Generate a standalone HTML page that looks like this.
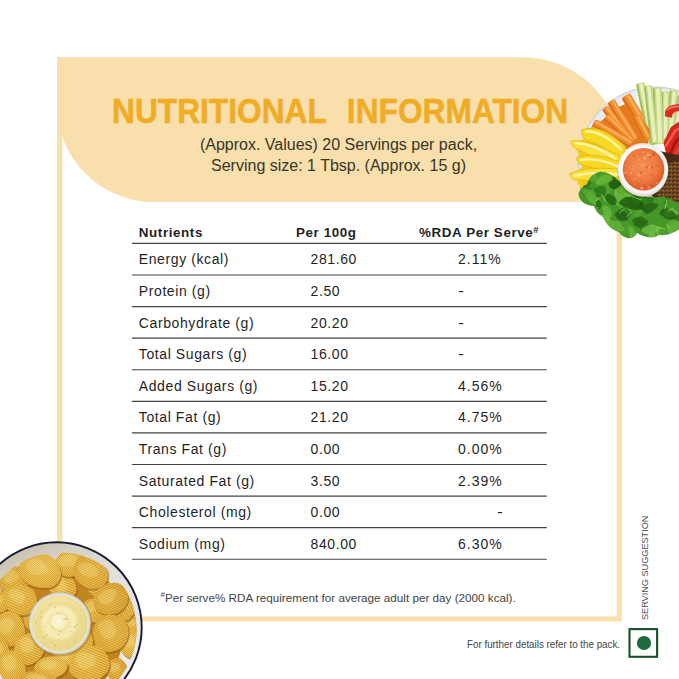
<!DOCTYPE html>
<html lang="en">
<head>
<meta charset="utf-8">
<title>Nutritional Information</title>
<style>
  html,body{margin:0;padding:0;background:#fff;}
  body{width:679px;height:679px;position:relative;overflow:hidden;font-family:"Liberation Sans",sans-serif;color:#222;}
  .abs{position:absolute;}
  #bg{position:absolute;left:0;top:0;width:679px;height:679px;}
  #title{position:absolute;left:111.9px;top:91.2px;margin:0;font-weight:bold;font-size:35.5px;line-height:40px;color:#f0ac25;-webkit-text-stroke:.5px #f0ac25;white-space:nowrap;word-spacing:13.2px;transform-origin:0 50%;transform:scaleX(.893);}
  #sub{position:absolute;left:138.5px;top:133.8px;width:400px;text-align:center;font-size:16px;line-height:21.3px;color:#3a3528;white-space:nowrap;}
  #tbl{position:absolute;left:132px;top:212px;width:415px;}
  .row{position:absolute;left:0;width:415px;height:31.5px;font-size:14px;letter-spacing:.6px;white-space:nowrap;color:#1f1f1f;margin-top:1px;}
  .row span{position:absolute;top:0;line-height:31.5px;}
  .off{margin-left:39px;}
  .dash{display:inline-block;font-weight:normal;transform-origin:0 50%;transform:scaleX(1.25);}
  .row sup{font-size:9.5px;line-height:0;vertical-align:4.5px;letter-spacing:0;}
  .c1{left:6.8px;} .c2{left:178.5px;} .c3{left:326px;letter-spacing:1px;}
  .hd{font-weight:bold;font-size:13.4px;letter-spacing:.6px;margin-top:4.6px;}
  .hd .c2{left:164px;} .hd .c3{left:287px;letter-spacing:.6px;}
  #foot sup{font-size:8px;line-height:0;}
  #foot{position:absolute;left:160.5px;top:589.5px;font-size:11.7px;line-height:16px;color:#444;white-space:nowrap;}
  #pack{position:absolute;left:466.5px;top:637px;font-size:11px;line-height:14px;color:#444;white-space:nowrap;transform-origin:0 50%;transform:scaleX(.891);}
  #serv{position:absolute;left:639.4px;top:620px;font-size:9.9px;line-height:12px;color:#505050;white-space:nowrap;transform-origin:0 0;transform:rotate(-90deg) scaleX(.925);}
</style>
</head>
<body>
<svg id="bg" viewBox="0 0 679 679" width="679" height="679">
<defs>
<radialGradient id="gPlate" cx="655" cy="163.5" r="77" gradientUnits="userSpaceOnUse"><stop offset="0" stop-color="#fafbfc"/><stop offset="0.88" stop-color="#f3f5f7"/><stop offset="0.97" stop-color="#e9edf0"/><stop offset="1" stop-color="#c5cbd1"/></radialGradient>
<radialGradient id="gBowl" cx="643" cy="169" r="26" gradientUnits="userSpaceOnUse"><stop offset="0.75" stop-color="#ffffff"/><stop offset="0.92" stop-color="#f4f2f0"/><stop offset="1" stop-color="#e2dcd8"/></radialGradient>
<radialGradient id="gDip" cx="642" cy="166" r="22" gradientUnits="userSpaceOnUse"><stop offset="0" stop-color="#f48e52"/><stop offset="0.7" stop-color="#ee7a42"/><stop offset="1" stop-color="#de6230"/></radialGradient>
<pattern id="pCrack" width="4" height="4" patternUnits="userSpaceOnUse"><rect width="4" height="4" fill="#73471f"/><circle cx="1" cy="1" r="0.9" fill="#4e2f14"/><circle cx="3" cy="2.6" r="0.7" fill="#b07c48"/><circle cx="2.4" cy="0.6" r="0.6" fill="#33200e"/></pattern>

<radialGradient id="gC0" cx="0.42" cy="0.38" r="0.8"><stop offset="0" stop-color="#f1c854"/><stop offset="0.65" stop-color="#e4ac30"/><stop offset="1" stop-color="#c4811a"/></radialGradient>
<radialGradient id="gC1" cx="0.5" cy="0.45" r="0.8"><stop offset="0" stop-color="#edbf48"/><stop offset="0.65" stop-color="#dfa32a"/><stop offset="1" stop-color="#bd7a18"/></radialGradient>
<radialGradient id="gC2" cx="0.4" cy="0.5" r="0.8"><stop offset="0" stop-color="#ebb940"/><stop offset="0.65" stop-color="#d99a24"/><stop offset="1" stop-color="#b47216"/></radialGradient>
<radialGradient id="gC3" cx="0.55" cy="0.4" r="0.8"><stop offset="0" stop-color="#f4d062"/><stop offset="0.65" stop-color="#e8b238"/><stop offset="1" stop-color="#c98820"/></radialGradient>

<linearGradient id="gRim" x1="40" y1="542" x2="110" y2="680" gradientUnits="userSpaceOnUse"><stop offset="0" stop-color="#cdc3b2"/><stop offset="0.12" stop-color="#d6cfc4"/><stop offset="0.4" stop-color="#e3e0dc"/><stop offset="1" stop-color="#ececee"/></linearGradient>
<radialGradient id="gDBowl" cx="59.8" cy="623.3" r="31" gradientUnits="userSpaceOnUse"><stop offset="0.86" stop-color="#f2f1ec"/><stop offset="0.93" stop-color="#e2e1dc"/><stop offset="1" stop-color="#c9c8c2"/></radialGradient>
<radialGradient id="gMayo" cx="58" cy="620" r="29" gradientUnits="userSpaceOnUse"><stop offset="0" stop-color="#fbf4d0"/><stop offset="0.6" stop-color="#f4e6a6"/><stop offset="1" stop-color="#ead78a"/></radialGradient>
<pattern id="pR0" width="1.6" height="8" patternUnits="userSpaceOnUse" patternTransform="rotate(75)"><rect x="0" y="0" width="0.7" height="8" fill="#b57a16" opacity="0.55"/><rect x="0.85" y="0" width="0.6" height="8" fill="#fbe590" opacity="0.55"/></pattern><pattern id="pR1" width="1.6" height="8" patternUnits="userSpaceOnUse" patternTransform="rotate(20)"><rect x="0" y="0" width="0.7" height="8" fill="#b57a16" opacity="0.55"/><rect x="0.85" y="0" width="0.6" height="8" fill="#fbe590" opacity="0.55"/></pattern><pattern id="pR2" width="1.6" height="8" patternUnits="userSpaceOnUse" patternTransform="rotate(110)"><rect x="0" y="0" width="0.7" height="8" fill="#b57a16" opacity="0.55"/><rect x="0.85" y="0" width="0.6" height="8" fill="#fbe590" opacity="0.55"/></pattern><pattern id="pR3" width="1.6" height="8" patternUnits="userSpaceOnUse" patternTransform="rotate(-35)"><rect x="0" y="0" width="0.7" height="8" fill="#b57a16" opacity="0.55"/><rect x="0.85" y="0" width="0.6" height="8" fill="#fbe590" opacity="0.55"/></pattern><pattern id="pR4" width="1.6" height="8" patternUnits="userSpaceOnUse" patternTransform="rotate(50)"><rect x="0" y="0" width="0.7" height="8" fill="#b57a16" opacity="0.55"/><rect x="0.85" y="0" width="0.6" height="8" fill="#fbe590" opacity="0.55"/></pattern><pattern id="pR5" width="1.6" height="8" patternUnits="userSpaceOnUse" patternTransform="rotate(-70)"><rect x="0" y="0" width="0.7" height="8" fill="#b57a16" opacity="0.55"/><rect x="0.85" y="0" width="0.6" height="8" fill="#fbe590" opacity="0.55"/></pattern></defs>
<!-- frame -->
<path d="M59.65,57.2 V590 A29,29 0 0 0 88.65,619 H619.3 V150" fill="none" stroke="#f8dfab" stroke-width="5.2"/>
<!-- header -->
<path d="M57,57.2 H522.5 A99.5,99.5 0 0 1 622,156.7 V202 H154 A97,97 0 0 1 57,105 Z" fill="#f8dfab"/>
<g stroke="#434343" stroke-width="1.2"><line x1="131.9" x2="546.8" y1="243.40" y2="243.40"/><line x1="131.9" x2="546.8" y1="274.99" y2="274.99"/><line x1="131.9" x2="546.8" y1="306.57" y2="306.57"/><line x1="131.9" x2="546.8" y1="338.15" y2="338.15"/><line x1="131.9" x2="546.8" y1="369.74" y2="369.74"/><line x1="131.9" x2="546.8" y1="401.33" y2="401.33"/><line x1="131.9" x2="546.8" y1="432.91" y2="432.91"/><line x1="131.9" x2="546.8" y1="464.50" y2="464.50"/><line x1="131.9" x2="546.8" y1="496.08" y2="496.08"/><line x1="131.9" x2="546.8" y1="527.66" y2="527.66"/><line x1="131.9" x2="546.8" y1="559.25" y2="559.25"/></g>
<g id="plate">
<clipPath id="cPl"><rect x="560" y="80" width="125" height="118"/></clipPath>
<g clip-path="url(#cPl)"><circle cx="655" cy="163.5" r="77" fill="url(#gPlate)"/>
<circle cx="655" cy="163.5" r="70.5" fill="none" stroke="#dde4ea" stroke-width="1.2"/></g>
<path d="M641,96 L679,98 L672,140 L650,146 Z" fill="#a9c662"/>
<g transform="translate(681.5,95.0) rotate(100.0)"><rect x="0" y="-3.50" width="37.6" height="7.00" rx="1.0" fill="#c6da84"/><rect x="0.5" y="2.10" width="36.6" height="1.40" rx="0.5" fill="#9dbc55"/><rect x="1" y="-2.03" width="35.6" height="2.94" rx="0.5" fill="#e7f0c2"/></g>
<g transform="translate(673.8,90.5) rotate(95.3)"><rect x="0" y="-4.00" width="45.7" height="8.00" rx="1.0" fill="#c6da84"/><rect x="0.5" y="2.40" width="44.7" height="1.60" rx="0.5" fill="#9dbc55"/><rect x="1" y="-2.32" width="43.7" height="3.36" rx="0.5" fill="#e7f0c2"/></g>
<g transform="translate(665.4,91.5) rotate(91.0)"><rect x="0" y="-3.90" width="47.5" height="7.80" rx="1.0" fill="#c6da84"/><rect x="0.5" y="2.34" width="46.5" height="1.56" rx="0.5" fill="#9dbc55"/><rect x="1" y="-2.26" width="45.5" height="3.28" rx="0.5" fill="#e7f0c2"/></g>
<g transform="translate(640.2,83.0) rotate(78.7)"><rect x="0" y="-4.20" width="56.1" height="8.40" rx="1.0" fill="#c6da84"/><rect x="0.5" y="2.52" width="55.1" height="1.68" rx="0.5" fill="#9dbc55"/><rect x="1" y="-2.44" width="54.1" height="3.53" rx="0.5" fill="#e7f0c2"/></g>
<g transform="translate(657.0,87.5) rotate(87.4)"><rect x="0" y="-4.50" width="56.6" height="9.00" rx="1.0" fill="#c6da84"/><rect x="0.5" y="2.70" width="55.6" height="1.80" rx="0.5" fill="#9dbc55"/><rect x="1" y="-2.61" width="54.6" height="3.78" rx="0.5" fill="#e7f0c2"/></g>
<g transform="translate(647.9,85.5) rotate(83.6)"><rect x="0" y="-3.90" width="57.9" height="7.80" rx="1.0" fill="#c6da84"/><rect x="0.5" y="2.34" width="56.9" height="1.56" rx="0.5" fill="#9dbc55"/><rect x="1" y="-2.26" width="55.9" height="3.28" rx="0.5" fill="#e7f0c2"/></g>
<path d="M665.2,116.5 C663.8,108.5 668.5,104.2 682,104 L682,111 C675,110.8 671.8,112.8 672.2,117.8 Z" fill="#dc2a1e"/>
<path d="M667.5,109.8 C670.5,106.8 675,106.2 681,106.4" fill="none" stroke="#f4796a" stroke-width="1.6" stroke-linecap="round"/>
<path d="M663.6,142.5 L671,127 L682,119.5 L682,161 L667.5,160 Z" fill="#d6251b"/>
<path d="M666,146 L675,131 L682,126.5" fill="none" stroke="#f0574a" stroke-width="2.6" stroke-linecap="round"/>
<path d="M668.5,157 L676,141 L682,136" fill="none" stroke="#a3130f" stroke-width="2.2"/>
<path d="M672,160 L679,148 L682,146" fill="none" stroke="#ec4034" stroke-width="3"/>
<path d="M600,122 L616,108 L630,102 L650,130 L648,146 L622,150 L600,134 Z" fill="#e47a1e"/>
<g transform="translate(625.6,95.5) rotate(59.0)"><rect x="0" y="-5.00" width="30.9" height="10.00" rx="2.2" fill="#f08a2a"/><rect x="0.5" y="2.50" width="29.9" height="2.20" rx="1.1" fill="#dc6c15"/><rect x="1" y="-3.50" width="28.9" height="3.00" rx="1.1" fill="#f9ae5c"/></g>
<g transform="translate(636.0,116.0) rotate(63.4)"><rect x="0" y="-4.30" width="25.7" height="8.60" rx="2.2" fill="#f08a2a"/><rect x="0.5" y="2.15" width="24.7" height="1.89" rx="1.1" fill="#dc6c15"/><rect x="1" y="-3.01" width="23.7" height="2.58" rx="1.1" fill="#f9ae5c"/></g>
<g transform="translate(610.8,101.0) rotate(58.2)"><rect x="0" y="-4.10" width="45.9" height="8.20" rx="2.2" fill="#f08a2a"/><rect x="0.5" y="2.05" width="44.9" height="1.80" rx="1.1" fill="#dc6c15"/><rect x="1" y="-2.87" width="43.9" height="2.46" rx="1.1" fill="#f9ae5c"/></g>
<g transform="translate(604.8,107.5) rotate(52.3)"><rect x="0" y="-3.80" width="43.6" height="7.60" rx="2.2" fill="#f08a2a"/><rect x="0.5" y="1.90" width="42.6" height="1.67" rx="1.1" fill="#dc6c15"/><rect x="1" y="-2.66" width="41.6" height="2.28" rx="1.1" fill="#f9ae5c"/></g>
<g transform="translate(606.0,116.5) rotate(43.0)"><rect x="0" y="-3.70" width="30.1" height="7.40" rx="2.2" fill="#f08a2a"/><rect x="0.5" y="1.85" width="29.1" height="1.63" rx="1.1" fill="#dc6c15"/><rect x="1" y="-2.59" width="28.1" height="2.22" rx="1.1" fill="#f9ae5c"/></g>
<g transform="translate(593.5,122.5) rotate(30.1)"><rect x="0" y="-4.10" width="43.9" height="8.20" rx="2.2" fill="#f08a2a"/><rect x="0.5" y="2.05" width="42.9" height="1.80" rx="1.1" fill="#dc6c15"/><rect x="1" y="-2.87" width="41.9" height="2.46" rx="1.1" fill="#f9ae5c"/></g>
<g transform="translate(590.5,128.5) rotate(31.5)"><rect x="0" y="-3.70" width="39.3" height="7.40" rx="2.2" fill="#f08a2a"/><rect x="0.5" y="1.85" width="38.3" height="1.63" rx="1.1" fill="#dc6c15"/><rect x="1" y="-2.59" width="37.3" height="2.22" rx="1.1" fill="#f9ae5c"/></g>
<path d="M588,128 C600,128 614,138 625,148 L622,190 L588,190 L578,184 L576,176 L582,166 L581,159 L576,148 L576,142 L587,138 Z" fill="#f2cd1a"/>
<path d="M582,130 C596,124.5 612,133.5 626,147.5 L621,160 C608,150 596,142.5 586,140.5 C583,137.5 581,133.5 582,130 Z" fill="#f7d822" stroke="#e3b70f" stroke-width="0.9"/>
<path d="M571,141 C584,139.5 602,146.5 620,156.5 L617,167.5 C601,161.5 586,153.5 574,147.5 C572,145.5 571,143.5 571,141 Z" fill="#fae03c" stroke="#e3b70f" stroke-width="0.9"/>
<path d="M577,157.5 C590,152.5 607,156.5 621,162.5 L620,174.5 C605,170.5 590,167.5 580,164.5 C578,162.5 577,160.5 577,157.5 Z" fill="#f7d822" stroke="#e3b70f" stroke-width="0.9"/>
<path d="M570,173.5 C584,167.5 604,167.5 621,169.5 L621,182.5 C604,181.5 586,180.5 574,179.5 C571.5,178 570,176 570,173.5 Z" fill="#fae03c" stroke="#e3b70f" stroke-width="0.9"/>
<path d="M580,186 C594,178.5 608,177.5 621,177.5 L621,191.5 C608,190.5 594,190.5 584,190.5 C581.5,189.5 580,188 580,186 Z" fill="#f7d822" stroke="#e3b70f" stroke-width="0.9"/>
<path d="M586,131.5 C598,131 611,139.5 621,149.5" fill="none" stroke="#fdf4a4" stroke-width="2.6" stroke-linecap="round"/>
<path d="M576,143 C588,143.5 603,150 615,158.5" fill="none" stroke="#fdf4a4" stroke-width="2.6" stroke-linecap="round"/>
<path d="M581,160 C593,158 606,161 618,166.5" fill="none" stroke="#fdf4a4" stroke-width="2.4" stroke-linecap="round"/>
<path d="M575,175.5 C588,172.5 604,172.5 618,174.5" fill="none" stroke="#fdf4a4" stroke-width="2.6" stroke-linecap="round"/>
<path d="M585,186 C596,183.5 608,183 618,183" fill="none" stroke="#fdf4a4" stroke-width="2.2" stroke-linecap="round"/>
<path d="M655,150 L682,156 L682,212 C672,210 662,204 652,196 Z" fill="#4a2a12"/>
<path d="M659,170 C665,163 674,161 682,162 L682,211 C674,209 665,203 657,195 Z" fill="url(#pCrack)"/>
<g id="lettuce">
<clipPath id="cLet"><path d="M578.5,194 C580,188 584,185 587,184.5 C589,178 594,173 599,172 C606,171 613,176 619,181 C628,196 652,200 664,196 L682,205 L682,228 C674,232 668,236 659,235 C652,240 642,236 637,233 C634,240 624,240 619,232 C612,230 606,224 603,217 C598,214 595,210 594,206 C586,206 579,201 578.5,194 Z"/></clipPath>
<path d="M578.5,194 C580,188 584,185 587,184.5 C589,178 594,173 599,172 C606,171 613,176 619,181 C628,196 652,200 664,196 L682,205 L682,228 C674,232 668,236 659,235 C652,240 642,236 637,233 C634,240 624,240 619,232 C612,230 606,224 603,217 C598,214 595,210 594,206 C586,206 579,201 578.5,194 Z" fill="#449628"/>
<g clip-path="url(#cLet)">
<path d="M622.5,220.7 Q620.3,218.6 620.0,214.2 Q619.7,209.9 620.8,206.8 Q621.8,203.6 623.6,201.5 Q625.3,199.5 627.1,201.3 Q629.0,203.1 630.3,206.7 Q631.6,210.2 630.0,213.5 Q628.4,216.7 626.6,219.8 Q624.7,222.8 622.5,220.7 Z" fill="#62b238" opacity="0.9"/>
<path d="M601.6,232.4 Q600.4,234.8 597.1,233.8 Q593.7,232.7 592.7,230.0 Q591.7,227.2 591.5,224.8 Q591.2,222.3 593.4,221.2 Q595.6,220.1 598.6,220.5 Q601.5,221.0 603.8,223.4 Q606.1,225.9 604.5,228.0 Q602.9,230.1 601.6,232.4 Z" fill="#88cb54" opacity="0.9"/>
<path d="M619.8,182.5 Q617.5,185.2 613.2,184.1 Q608.9,183.0 606.4,182.0 Q603.9,181.0 600.9,178.8 Q597.8,176.6 600.1,174.2 Q602.4,171.8 606.4,171.4 Q610.5,170.9 613.4,172.9 Q616.2,174.9 619.1,177.3 Q622.0,179.8 619.8,182.5 Z" fill="#51a22e" opacity="0.9"/>
<path d="M685.1,218.3 Q684.5,219.8 681.3,220.1 Q678.2,220.3 674.9,219.8 Q671.7,219.3 670.3,217.7 Q669.0,216.0 671.4,215.0 Q673.9,214.1 676.2,213.8 Q678.5,213.5 682.2,213.4 Q685.9,213.2 685.8,215.0 Q685.7,216.8 685.1,218.3 Z" fill="#2b7117" opacity="0.9"/>
<path d="M578.1,177.7 Q578.2,175.4 579.5,172.7 Q580.8,170.0 583.8,169.0 Q586.8,168.1 588.6,168.8 Q590.4,169.5 591.4,171.4 Q592.5,173.2 591.0,176.8 Q589.5,180.4 585.4,182.1 Q581.3,183.9 579.6,181.9 Q577.9,180.0 578.1,177.7 Z" fill="#1f5a0e" opacity="0.9"/>
<path d="M621.2,236.9 Q618.7,235.9 617.5,232.6 Q616.3,229.3 617.2,225.7 Q618.1,222.0 621.0,221.0 Q623.8,220.0 626.6,221.0 Q629.5,222.1 628.9,225.7 Q628.4,229.3 628.3,232.1 Q628.2,234.9 626.0,236.4 Q623.8,238.0 621.2,236.9 Z" fill="#4a9b29" opacity="0.9"/>
<path d="M614.2,193.3 Q614.2,189.5 618.0,186.7 Q621.8,184.0 625.4,183.7 Q629.1,183.5 630.7,185.3 Q632.3,187.2 634.2,189.7 Q636.0,192.2 632.7,195.0 Q629.3,197.8 625.1,199.4 Q620.8,201.0 617.5,199.0 Q614.2,197.1 614.2,193.3 Z" fill="#6fbb42" opacity="0.9"/>
<path d="M606.4,190.1 Q606.6,188.6 607.3,186.5 Q608.0,184.5 610.0,184.1 Q612.1,183.8 614.0,183.4 Q615.9,183.0 615.8,184.8 Q615.7,186.5 614.2,188.1 Q612.7,189.7 610.9,191.3 Q609.1,192.8 607.7,192.2 Q606.3,191.7 606.4,190.1 Z" fill="#51a22e" opacity="0.9"/>
<path d="M585.3,194.8 Q583.8,194.1 585.4,192.2 Q586.9,190.3 588.0,188.4 Q589.2,186.6 590.3,187.5 Q591.4,188.4 592.1,189.3 Q592.8,190.2 592.9,192.3 Q593.1,194.3 591.2,194.9 Q589.2,195.6 588.0,195.6 Q586.7,195.6 585.3,194.8 Z" fill="#2f7a19" opacity="0.9"/>
<path d="M599.4,240.8 Q596.5,240.4 595.2,238.1 Q593.9,235.9 592.6,232.8 Q591.2,229.7 594.6,229.2 Q598.1,228.7 600.7,227.8 Q603.4,226.9 606.2,228.8 Q609.1,230.8 607.1,233.6 Q605.1,236.5 603.7,238.8 Q602.2,241.2 599.4,240.8 Z" fill="#4a9b29" opacity="0.9"/>
<path d="M639.8,192.9 Q637.5,192.5 635.0,190.5 Q632.5,188.4 632.0,185.6 Q631.5,182.8 631.2,179.7 Q630.9,176.6 633.5,176.7 Q636.1,176.8 638.8,179.6 Q641.4,182.4 641.8,185.3 Q642.1,188.1 642.1,190.7 Q642.2,193.3 639.8,192.9 Z" fill="#2a6f16" opacity="0.9"/>
<path d="M682.4,226.7 Q681.2,228.1 678.8,228.5 Q676.5,229.0 675.0,227.2 Q673.5,225.3 673.2,223.6 Q672.8,221.8 674.1,220.4 Q675.3,219.0 677.4,219.5 Q679.4,220.0 681.3,220.8 Q683.2,221.7 683.3,223.5 Q683.5,225.3 682.4,226.7 Z" fill="#2a6f16" opacity="0.9"/>
<path d="M624.4,213.0 Q622.8,212.0 622.2,208.5 Q621.6,205.0 622.8,202.5 Q624.1,200.0 625.3,199.3 Q626.5,198.7 627.9,199.0 Q629.4,199.2 629.7,202.2 Q630.1,205.2 629.9,209.0 Q629.8,212.8 627.9,213.4 Q626.1,214.1 624.4,213.0 Z" fill="#5aaa32" opacity="0.9"/>
<path d="M627.6,201.2 Q627.4,204.4 624.5,205.6 Q621.6,206.9 618.4,205.9 Q615.3,204.9 615.5,201.5 Q615.6,198.1 616.4,195.7 Q617.2,193.4 619.4,192.6 Q621.6,191.8 623.8,192.6 Q626.0,193.4 626.9,195.8 Q627.9,198.1 627.6,201.2 Z" fill="#62b238" opacity="0.9"/>
<path d="M604.3,232.4 Q603.3,230.6 605.2,228.8 Q607.1,227.0 609.8,226.2 Q612.6,225.5 613.5,227.6 Q614.5,229.8 614.5,231.6 Q614.4,233.4 613.4,235.5 Q612.3,237.6 609.7,237.8 Q607.1,238.0 606.2,236.1 Q605.3,234.3 604.3,232.4 Z" fill="#62b238" opacity="0.9"/>
<path d="M583.5,242.1 Q584.5,239.6 584.7,237.4 Q584.9,235.3 587.2,235.1 Q589.4,235.0 592.0,234.5 Q594.6,234.0 593.5,236.5 Q592.4,239.0 592.3,241.3 Q592.2,243.6 589.6,244.4 Q587.1,245.3 584.7,244.9 Q582.4,244.5 583.5,242.1 Z" fill="#1f5a0e" opacity="0.9"/>
<path d="M661.1,201.6 Q659.9,200.4 660.2,198.5 Q660.5,196.5 661.8,195.1 Q663.1,193.6 664.8,193.6 Q666.5,193.6 667.9,194.7 Q669.2,195.9 668.5,197.8 Q667.8,199.8 666.8,201.6 Q665.7,203.5 664.0,203.1 Q662.3,202.8 661.1,201.6 Z" fill="#2a6f16" opacity="0.9"/>
<path d="M637.6,204.6 Q634.3,204.1 632.4,200.9 Q630.6,197.8 633.0,195.3 Q635.5,192.8 637.8,190.5 Q640.1,188.3 643.2,189.6 Q646.4,190.8 647.8,193.8 Q649.1,196.8 647.0,199.0 Q645.0,201.2 643.0,203.2 Q640.9,205.1 637.6,204.6 Z" fill="#62b238" opacity="0.9"/>
<path d="M596.1,204.3 Q594.7,205.6 592.0,203.6 Q589.2,201.6 587.8,199.3 Q586.4,197.1 586.0,194.8 Q585.6,192.5 587.6,192.1 Q589.7,191.6 592.5,193.1 Q595.3,194.6 597.1,197.1 Q598.9,199.7 598.2,201.3 Q597.5,202.9 596.1,204.3 Z" fill="#62b238" opacity="0.9"/>
<path d="M609.5,192.8 Q606.6,194.7 603.0,193.0 Q599.4,191.3 597.3,188.4 Q595.3,185.5 596.0,182.6 Q596.7,179.8 598.9,176.9 Q601.0,174.1 604.4,176.8 Q607.9,179.4 609.3,181.9 Q610.7,184.4 611.6,187.7 Q612.5,191.0 609.5,192.8 Z" fill="#51a22e" opacity="0.9"/>
<path d="M677.1,215.5 Q675.2,216.9 672.2,217.2 Q669.2,217.6 666.0,216.7 Q662.8,215.7 663.1,214.0 Q663.4,212.3 663.9,210.8 Q664.4,209.3 667.4,208.7 Q670.3,208.1 673.5,209.3 Q676.6,210.4 677.8,212.3 Q679.0,214.2 677.1,215.5 Z" fill="#6fbb42" opacity="0.9"/>
<path d="M598.5,224.0 Q595.8,223.1 595.6,220.4 Q595.4,217.6 597.4,215.8 Q599.4,214.1 601.9,214.4 Q604.4,214.7 607.3,215.6 Q610.1,216.5 610.5,219.5 Q610.9,222.5 608.6,224.2 Q606.3,225.9 603.8,225.4 Q601.2,224.9 598.5,224.0 Z" fill="#6fbb42" opacity="0.9"/>
<path d="M631.6,245.2 Q630.2,241.3 629.7,238.4 Q629.2,235.4 628.4,230.4 Q627.7,225.5 629.6,225.9 Q631.5,226.4 632.7,227.8 Q633.9,229.1 635.2,232.0 Q636.5,234.9 635.8,238.4 Q635.1,242.0 634.1,245.5 Q633.0,249.0 631.6,245.2 Z" fill="#62b238" opacity="0.9"/>
<path d="M653.1,193.6 Q651.1,195.5 646.3,196.0 Q641.6,196.5 638.9,194.8 Q636.2,193.1 633.5,191.8 Q630.8,190.5 632.9,189.1 Q635.0,187.7 638.5,187.1 Q642.1,186.6 645.0,187.7 Q647.8,188.9 651.4,190.3 Q655.1,191.7 653.1,193.6 Z" fill="#6fbb42" opacity="0.9"/>
<path d="M618.3,193.9 Q616.3,193.0 616.6,190.8 Q616.9,188.6 616.9,186.1 Q616.9,183.7 619.1,184.2 Q621.2,184.6 623.0,184.9 Q624.9,185.2 624.6,187.2 Q624.4,189.3 624.3,191.4 Q624.2,193.6 622.2,194.2 Q620.2,194.9 618.3,193.9 Z" fill="#5aaa32" opacity="0.9"/>
<path d="M581.3,185.1 Q579.7,183.5 581.4,180.5 Q583.1,177.4 585.8,176.7 Q588.4,176.1 591.2,175.3 Q593.9,174.4 594.1,177.0 Q594.4,179.6 592.3,181.7 Q590.3,183.8 588.3,186.7 Q586.3,189.6 584.6,188.1 Q582.8,186.7 581.3,185.1 Z" fill="#2b7117" opacity="0.9"/>
<path d="M634.2,181.8 Q635.3,180.4 636.6,179.6 Q638.0,178.7 639.9,178.3 Q641.8,177.9 642.1,179.2 Q642.5,180.5 643.1,181.8 Q643.7,183.2 641.8,184.4 Q639.9,185.5 638.3,184.8 Q636.7,184.1 634.9,183.6 Q633.0,183.2 634.2,181.8 Z" fill="#6fbb42" opacity="0.9"/>
<path d="M670.9,178.2 Q670.1,175.7 671.4,172.2 Q672.7,168.7 675.9,168.1 Q679.0,167.5 680.7,168.0 Q682.4,168.6 684.5,169.8 Q686.6,171.0 684.3,173.9 Q682.0,176.8 679.5,178.5 Q677.1,180.2 674.4,180.4 Q671.8,180.6 670.9,178.2 Z" fill="#1f5a0e" opacity="0.9"/>
<path d="M597.0,179.0 Q596.0,180.3 593.7,181.3 Q591.4,182.3 589.4,180.8 Q587.4,179.2 586.8,177.7 Q586.2,176.1 586.8,174.4 Q587.4,172.6 590.2,172.4 Q592.9,172.1 595.0,173.3 Q597.1,174.6 597.6,176.2 Q598.1,177.8 597.0,179.0 Z" fill="#5aaa32" opacity="0.9"/>
<path d="M654.2,234.0 Q654.9,231.6 656.5,229.1 Q658.1,226.7 660.7,227.8 Q663.4,229.0 665.4,230.5 Q667.3,232.0 666.7,234.4 Q666.1,236.8 664.3,238.5 Q662.4,240.2 659.3,241.0 Q656.2,241.9 654.9,239.2 Q653.5,236.5 654.2,234.0 Z" fill="#51a22e" opacity="0.9"/>
<path d="M672.0,179.3 Q671.9,177.3 672.9,175.1 Q674.0,172.8 675.4,170.1 Q676.8,167.3 678.1,167.8 Q679.4,168.3 679.9,169.6 Q680.4,170.9 679.8,173.3 Q679.1,175.7 677.4,178.2 Q675.6,180.7 673.9,181.0 Q672.2,181.2 672.0,179.3 Z" fill="#51a22e" opacity="0.9"/>
<path d="M635.1,211.7 Q635.6,210.0 637.0,208.7 Q638.5,207.4 640.6,207.9 Q642.8,208.3 642.8,210.8 Q642.9,213.3 642.3,215.1 Q641.6,216.8 640.2,217.8 Q638.7,218.8 636.5,218.7 Q634.2,218.7 634.5,216.1 Q634.7,213.5 635.1,211.7 Z" fill="#51a22e" opacity="0.9"/>
<path d="M653.1,204.9 Q651.2,204.5 649.8,202.0 Q648.4,199.4 647.7,195.4 Q646.9,191.3 649.5,190.2 Q652.0,189.2 654.6,189.6 Q657.1,190.1 657.7,193.8 Q658.3,197.6 658.8,200.9 Q659.2,204.2 657.1,204.7 Q655.0,205.3 653.1,204.9 Z" fill="#2b7117" opacity="0.9"/>
<path d="M584.6,227.8 Q582.2,227.2 580.8,225.3 Q579.3,223.5 581.0,221.8 Q582.7,220.1 584.6,218.7 Q586.4,217.4 589.1,217.8 Q591.9,218.2 593.1,220.4 Q594.4,222.6 592.4,224.2 Q590.4,225.8 588.7,227.1 Q587.0,228.4 584.6,227.8 Z" fill="#2f7a19" opacity="0.9"/>
<path d="M675.5,188.3 Q673.1,187.1 671.4,183.5 Q669.8,180.0 670.7,175.7 Q671.5,171.4 674.3,169.6 Q677.1,167.8 679.3,170.5 Q681.5,173.2 683.6,176.3 Q685.8,179.3 684.0,182.7 Q682.2,186.0 680.1,187.8 Q678.0,189.5 675.5,188.3 Z" fill="#2a6f16" opacity="0.9"/>
<path d="M608.9,185.6 Q607.9,183.3 609.7,180.1 Q611.6,176.9 614.8,174.9 Q618.1,172.9 619.9,174.7 Q621.7,176.5 623.6,178.2 Q625.6,180.0 623.0,183.1 Q620.5,186.1 617.5,188.1 Q614.5,190.0 612.2,189.0 Q609.9,188.0 608.9,185.6 Z" fill="#1f5a0e" opacity="0.9"/>
<path d="M640.0,209.0 Q638.0,208.0 639.6,203.4 Q641.1,198.9 644.3,195.4 Q647.4,191.9 650.0,191.7 Q652.7,191.5 653.8,194.0 Q654.8,196.4 652.2,200.1 Q649.7,203.8 647.8,207.3 Q646.0,210.8 644.0,210.4 Q642.0,210.1 640.0,209.0 Z" fill="#2f7a19" opacity="0.9"/>
<path d="M649.3,232.4 Q646.5,231.7 643.7,231.0 Q641.0,230.3 638.1,227.4 Q635.3,224.5 635.1,222.0 Q635.0,219.5 637.8,219.7 Q640.6,220.0 643.8,221.5 Q646.9,222.9 648.8,225.6 Q650.6,228.3 651.4,230.8 Q652.2,233.2 649.3,232.4 Z" fill="#2f7a19" opacity="0.9"/>
<path d="M633.2,194.3 Q633.3,192.1 634.4,190.0 Q635.5,187.8 637.6,188.6 Q639.8,189.4 642.1,189.9 Q644.3,190.3 644.1,192.6 Q643.8,194.9 642.7,196.9 Q641.6,198.8 639.5,198.4 Q637.4,198.0 635.3,197.3 Q633.1,196.6 633.2,194.3 Z" fill="#2a6f16" opacity="0.9"/>
<path d="M651.3,241.7 Q649.9,241.4 649.2,239.3 Q648.5,237.1 648.5,234.9 Q648.5,232.7 649.7,231.2 Q650.9,229.8 652.7,230.4 Q654.4,231.0 655.0,233.5 Q655.6,236.0 655.5,238.2 Q655.4,240.4 654.1,241.2 Q652.8,242.0 651.3,241.7 Z" fill="#6fbb42" opacity="0.9"/>
<path d="M668.6,233.0 Q666.7,231.3 668.7,228.8 Q670.7,226.3 672.1,224.6 Q673.5,222.8 676.3,221.7 Q679.1,220.5 680.1,223.2 Q681.1,226.0 679.6,228.4 Q678.2,230.8 676.6,232.6 Q675.1,234.5 672.8,234.5 Q670.6,234.6 668.6,233.0 Z" fill="#62b238" opacity="0.9"/>
<path d="M628.7,179.8 Q627.5,181.8 625.9,182.4 Q624.3,183.0 622.0,183.0 Q619.7,183.0 619.7,179.7 Q619.7,176.4 620.7,173.6 Q621.8,170.7 623.9,170.1 Q626.1,169.5 627.6,171.1 Q629.1,172.7 629.5,175.2 Q629.8,177.7 628.7,179.8 Z" fill="#6fbb42" opacity="0.9"/>
<path d="M644.0,197.0 Q641.1,196.7 638.6,196.3 Q636.1,195.8 633.6,194.2 Q631.2,192.6 629.2,190.5 Q627.2,188.4 629.4,187.9 Q631.6,187.3 635.4,188.1 Q639.2,189.0 641.0,191.2 Q642.9,193.4 644.9,195.4 Q647.0,197.4 644.0,197.0 Z" fill="#88cb54" opacity="0.9"/>
<path d="M592.1,225.1 Q590.3,223.0 592.4,221.4 Q594.5,219.9 596.5,218.8 Q598.5,217.7 601.1,218.8 Q603.6,220.0 604.6,222.8 Q605.6,225.7 603.7,227.7 Q601.8,229.8 599.4,230.4 Q597.0,231.1 595.4,229.1 Q593.9,227.1 592.1,225.1 Z" fill="#4a9b29" opacity="0.9"/>
<path d="M616.7,213.2 Q617.3,210.6 620.3,208.4 Q623.3,206.2 626.1,208.2 Q629.0,210.1 630.4,212.0 Q631.8,213.9 630.6,215.9 Q629.4,217.8 627.3,219.1 Q625.1,220.3 622.8,219.6 Q620.5,218.9 618.3,217.4 Q616.1,215.9 616.7,213.2 Z" fill="#2f7a19" opacity="0.9"/>
<path d="M597.9,209.2 Q596.6,208.8 596.4,206.7 Q596.1,204.5 596.1,202.6 Q596.1,200.6 597.2,200.2 Q598.3,199.8 599.3,200.5 Q600.2,201.1 601.0,202.6 Q601.8,204.0 601.4,205.7 Q600.9,207.4 600.1,208.5 Q599.2,209.5 597.9,209.2 Z" fill="#2a6f16" opacity="0.9"/>
<path d="M643.5,207.5 Q642.5,209.8 637.8,209.9 Q633.2,210.1 628.8,208.8 Q624.4,207.5 621.0,205.3 Q617.6,203.1 619.8,201.2 Q622.1,199.3 624.3,197.8 Q626.5,196.2 630.6,197.1 Q634.8,198.0 638.5,199.4 Q642.2,200.7 643.4,203.0 Q644.6,205.2 643.5,207.5 Z" fill="#1c560d" opacity="0.8"/>
<path d="M657.2,206.7 Q655.8,208.5 654.2,209.9 Q652.6,211.3 649.6,213.0 Q646.7,214.8 645.4,213.2 Q644.0,211.6 642.8,210.5 Q641.5,209.3 643.0,207.4 Q644.4,205.5 647.1,204.3 Q649.8,203.1 652.1,203.4 Q654.3,203.7 656.5,204.3 Q658.6,204.9 657.2,206.7 Z" fill="#1f5c10" opacity="0.75"/>
<path d="M615.9,204.0 Q615.4,205.5 613.0,205.2 Q610.7,205.0 609.1,203.2 Q607.4,201.5 606.2,199.7 Q605.0,197.9 605.6,196.2 Q606.2,194.6 608.4,194.0 Q610.6,193.5 612.7,195.4 Q614.7,197.3 615.9,198.7 Q617.1,200.1 616.8,201.4 Q616.5,202.6 615.9,204.0 Z" fill="#215f11" opacity="0.75"/>
<path d="M675.8,217.9 Q673.6,219.2 670.9,219.7 Q668.1,220.1 665.8,218.5 Q663.5,216.8 661.2,215.2 Q658.9,213.7 659.8,211.9 Q660.7,210.1 662.6,208.9 Q664.6,207.6 667.6,208.6 Q670.6,209.6 672.6,211.1 Q674.5,212.5 676.2,214.6 Q677.9,216.6 675.8,217.9 Z" fill="#1d580e" opacity="0.75"/>
<path d="M606.3,190.2 Q606.3,192.1 605.2,194.1 Q604.0,196.2 601.6,196.7 Q599.2,197.3 596.9,197.3 Q594.6,197.3 593.3,195.8 Q592.0,194.2 592.7,191.9 Q593.5,189.5 595.9,187.8 Q598.3,186.0 601.0,185.7 Q603.7,185.3 605.0,186.9 Q606.3,188.4 606.3,190.2 Z" fill="#2a6e16" opacity="0.7"/>
<path d="M647.5,223.3 Q645.8,224.7 643.7,225.8 Q641.6,226.9 638.1,227.1 Q634.6,227.2 633.9,225.3 Q633.3,223.4 632.4,221.8 Q631.5,220.3 633.3,218.8 Q635.2,217.4 638.5,216.7 Q641.9,216.1 643.8,217.7 Q645.8,219.3 647.6,220.6 Q649.3,222.0 647.5,223.3 Z" fill="#246412" opacity="0.75"/>
<path d="M625.6,220.9 Q623.8,221.3 621.7,221.2 Q619.5,221.1 617.5,219.2 Q615.4,217.3 614.8,214.8 Q614.2,212.3 616.6,212.0 Q619.0,211.8 620.5,211.2 Q622.1,210.6 624.2,211.7 Q626.3,212.9 627.0,214.9 Q627.8,216.9 627.6,218.7 Q627.4,220.5 625.6,220.9 Z" fill="#1f5a0f" opacity="0.7"/>
<path d="M612.8,178.2 Q613.7,180.0 610.2,181.4 Q606.6,182.8 604.3,183.9 Q602.1,185.0 599.9,184.8 Q597.8,184.6 595.6,183.6 Q593.4,182.6 596.0,180.4 Q598.6,178.2 601.0,176.6 Q603.3,174.9 606.0,174.7 Q608.7,174.4 610.3,175.4 Q611.8,176.3 612.8,178.2 Z" fill="#66b43a" opacity="0.85"/>
<path d="M595.7,198.3 Q595.0,200.2 592.3,199.0 Q589.6,197.7 587.7,197.1 Q585.9,196.5 584.9,194.9 Q584.0,193.4 583.4,191.3 Q582.9,189.1 585.6,189.2 Q588.4,189.2 590.6,189.5 Q592.8,189.8 594.3,191.4 Q595.9,192.9 596.1,194.6 Q596.3,196.3 595.7,198.3 Z" fill="#5aab33" opacity="0.8"/>
<path d="M623.4,231.2 Q620.9,231.8 618.1,231.5 Q615.3,231.3 613.0,229.6 Q610.6,227.8 608.1,225.7 Q605.7,223.5 607.1,222.0 Q608.6,220.5 611.2,220.5 Q613.9,220.4 617.0,221.0 Q620.2,221.5 621.0,223.7 Q621.9,226.0 623.9,228.3 Q625.9,230.6 623.4,231.2 Z" fill="#63b238" opacity="0.85"/>
<path d="M660.7,229.4 Q658.4,230.8 656.2,232.0 Q654.1,233.1 650.2,233.7 Q646.3,234.3 644.0,233.0 Q641.6,231.6 641.6,229.9 Q641.6,228.2 644.3,227.0 Q647.0,225.7 650.3,224.7 Q653.6,223.7 655.4,225.1 Q657.3,226.4 660.1,227.2 Q662.9,228.0 660.7,229.4 Z" fill="#6dbb41" opacity="0.85"/>
<path d="M678.2,225.0 Q677.2,226.7 676.5,228.9 Q675.7,231.2 672.6,231.6 Q669.5,232.1 668.0,230.8 Q666.5,229.5 666.2,228.2 Q665.9,226.8 666.3,225.0 Q666.8,223.3 669.2,221.6 Q671.5,219.8 674.6,219.8 Q677.8,219.7 678.5,221.5 Q679.2,223.4 678.2,225.0 Z" fill="#5eae35" opacity="0.8"/>
<path d="M636.8,192.8 Q636.9,194.4 633.8,194.3 Q630.7,194.1 627.5,193.8 Q624.2,193.4 624.0,191.7 Q623.7,190.0 623.8,188.9 Q623.9,187.8 625.5,187.1 Q627.1,186.5 629.6,186.3 Q632.1,186.2 635.0,187.2 Q637.8,188.2 637.2,189.7 Q636.6,191.2 636.8,192.8 Z" fill="#54a52f" opacity="0.8"/>
<path d="M666.7,200.2 Q667.1,201.6 664.3,202.2 Q661.6,202.8 659.3,203.3 Q656.9,203.8 654.7,203.3 Q652.4,202.8 652.8,201.4 Q653.2,200.0 654.2,198.6 Q655.3,197.2 658.0,196.4 Q660.7,195.6 662.7,196.3 Q664.7,197.0 665.5,197.9 Q666.3,198.9 666.7,200.2 Z" fill="#4f9f2c" opacity="0.75"/>
<path d="M608.7,217.3 Q607.1,217.0 605.6,215.9 Q604.1,214.9 603.5,213.0 Q602.9,211.1 602.2,208.6 Q601.5,206.1 603.2,205.7 Q605.0,205.2 606.9,205.8 Q608.8,206.4 609.9,208.7 Q611.1,210.9 611.7,213.1 Q612.4,215.3 611.3,216.5 Q610.2,217.6 608.7,217.3 Z" fill="#6cb83f" opacity="0.8"/>
<path d="M601.1,194.2 q3.0,2.8 4.0,7.5" stroke="#a5d86f" stroke-width="0.9" fill="none" opacity="0.8"/>
<path d="M631.8,212.0 q-1.5,1.4 -5.0,4.8" stroke="#a5d86f" stroke-width="0.9" fill="none" opacity="0.8"/>
<path d="M656.3,227.1 q5.7,0.3 9.3,2.6" stroke="#a5d86f" stroke-width="0.9" fill="none" opacity="0.8"/>
<path d="M650.0,186.8 q1.6,3.0 1.2,8.0" stroke="#a5d86f" stroke-width="0.9" fill="none" opacity="0.8"/>
<path d="M666.9,199.6 q-0.0,3.6 -2.0,9.2" stroke="#a5d86f" stroke-width="0.9" fill="none" opacity="0.8"/>
<path d="M656.7,229.1 q1.5,3.1 0.9,8.2" stroke="#a5d86f" stroke-width="0.9" fill="none" opacity="0.8"/>
<path d="M603.4,217.5 q-2.5,1.2 -6.9,4.4" stroke="#a5d86f" stroke-width="0.9" fill="none" opacity="0.8"/>
<path d="M649.6,191.1 q-3.7,0.5 -9.4,3.1" stroke="#a5d86f" stroke-width="0.9" fill="none" opacity="0.8"/>
<path d="M673.0,207.9 q-1.6,1.0 -5.2,4.0" stroke="#a5d86f" stroke-width="0.9" fill="none" opacity="0.8"/>
<path d="M666.9,224.5 q2.2,1.4 2.5,4.8" stroke="#a5d86f" stroke-width="0.9" fill="none" opacity="0.8"/>
<path d="M624.7,208.6 q-1.8,1.5 -5.6,4.9" stroke="#a5d86f" stroke-width="0.9" fill="none" opacity="0.8"/>
<path d="M587.6,222.1 q5.4,-0.1 8.8,1.8" stroke="#a5d86f" stroke-width="0.9" fill="none" opacity="0.8"/>
<path d="M600.6,197.4 q-1.2,0.8 -4.5,3.5" stroke="#a5d86f" stroke-width="0.9" fill="none" opacity="0.8"/>
<path d="M598.4,206.9 q-2.0,2.5 -5.9,7.0" stroke="#a5d86f" stroke-width="0.9" fill="none" opacity="0.8"/>
</g></g>
<ellipse cx="643.5" cy="171.4" rx="26" ry="27.2" fill="#2a4a14" opacity="0.35"/>
<ellipse cx="643" cy="169.8" rx="25.3" ry="26.7" fill="url(#gBowl)"/>
<ellipse cx="643.6" cy="169.3" rx="20.8" ry="21.3" fill="url(#gDip)"/>
<circle cx="632.1" cy="157.9" r="0.7" fill="#f38e56" opacity="0.8"/>
<circle cx="625.8" cy="173.3" r="1.5" fill="#f7a066" opacity="0.8"/>
<circle cx="653.7" cy="177.8" r="1.0" fill="#dc5a2c" opacity="0.8"/>
<circle cx="651.4" cy="175.0" r="1.1" fill="#dc5a2c" opacity="0.8"/>
<circle cx="651.1" cy="185.4" r="0.8" fill="#d04e22" opacity="0.8"/>
<circle cx="645.9" cy="162.5" r="1.1" fill="#f38e56" opacity="0.8"/>
<circle cx="656.4" cy="183.1" r="0.9" fill="#f7a066" opacity="0.8"/>
<circle cx="647.9" cy="187.7" r="1.0" fill="#dc5a2c" opacity="0.8"/>
<circle cx="657.3" cy="166.0" r="0.9" fill="#dc5a2c" opacity="0.8"/>
<circle cx="652.1" cy="167.6" r="1.0" fill="#d04e22" opacity="0.8"/>
<circle cx="638.8" cy="175.2" r="0.9" fill="#dc5a2c" opacity="0.8"/>
<circle cx="635.3" cy="184.3" r="0.7" fill="#f38e56" opacity="0.8"/>
<circle cx="639.0" cy="159.4" r="1.0" fill="#f9b27c" opacity="0.8"/>
<circle cx="638.3" cy="184.2" r="1.1" fill="#dc5a2c" opacity="0.8"/>
<circle cx="642.5" cy="164.9" r="1.6" fill="#f7a066" opacity="0.8"/>
<circle cx="636.2" cy="178.7" r="1.4" fill="#f38e56" opacity="0.8"/>
<circle cx="634.2" cy="180.1" r="1.1" fill="#f7a066" opacity="0.8"/>
<circle cx="639.9" cy="154.8" r="0.8" fill="#dc5a2c" opacity="0.8"/>
<circle cx="644.2" cy="186.5" r="1.0" fill="#d04e22" opacity="0.8"/>
<circle cx="635.4" cy="180.2" r="0.8" fill="#d04e22" opacity="0.8"/>
<circle cx="643.6" cy="152.3" r="0.7" fill="#f9b27c" opacity="0.8"/>
<circle cx="649.2" cy="167.4" r="1.2" fill="#f9b27c" opacity="0.8"/>
<circle cx="639.0" cy="174.9" r="1.5" fill="#f9b27c" opacity="0.8"/>
<circle cx="633.6" cy="166.3" r="1.0" fill="#f9b27c" opacity="0.8"/>
<circle cx="648.3" cy="155.0" r="1.6" fill="#f9b27c" opacity="0.8"/>
<circle cx="646.0" cy="172.9" r="1.2" fill="#f38e56" opacity="0.8"/>
<circle cx="636.1" cy="174.5" r="1.0" fill="#f38e56" opacity="0.8"/>
<circle cx="643.8" cy="184.6" r="0.8" fill="#dc5a2c" opacity="0.8"/>
<circle cx="646.8" cy="167.6" r="1.0" fill="#d04e22" opacity="0.8"/>
<circle cx="648.8" cy="187.4" r="1.6" fill="#f38e56" opacity="0.8"/>
<circle cx="632.3" cy="157.0" r="0.9" fill="#f7a066" opacity="0.8"/>
<circle cx="640.6" cy="172.6" r="1.0" fill="#d04e22" opacity="0.8"/>
<circle cx="625.6" cy="174.8" r="1.6" fill="#dc5a2c" opacity="0.8"/>
<circle cx="631.1" cy="173.1" r="1.1" fill="#f9b27c" opacity="0.8"/>
<circle cx="640.7" cy="181.0" r="0.8" fill="#dc5a2c" opacity="0.8"/>
<circle cx="649.9" cy="156.8" r="1.3" fill="#dc5a2c" opacity="0.8"/>
<circle cx="632.7" cy="169.3" r="1.1" fill="#f7a066" opacity="0.8"/>
<circle cx="629.8" cy="168.0" r="1.0" fill="#f38e56" opacity="0.8"/>
<circle cx="647.6" cy="153.0" r="1.3" fill="#f38e56" opacity="0.8"/>
<circle cx="644.5" cy="157.9" r="1.5" fill="#f9b27c" opacity="0.8"/>
<circle cx="642.0" cy="188.0" r="1.6" fill="#f9b27c" opacity="0.8"/>
<circle cx="639.5" cy="176.1" r="1.1" fill="#f7a066" opacity="0.8"/>
<circle cx="645.4" cy="158.6" r="1.1" fill="#f9b27c" opacity="0.8"/>
<circle cx="650.0" cy="155.3" r="1.0" fill="#f9b27c" opacity="0.8"/>
<circle cx="633.7" cy="156.5" r="1.0" fill="#d04e22" opacity="0.8"/>
<circle cx="653.6" cy="154.5" r="1.6" fill="#d04e22" opacity="0.8"/>
</g>
<g id="chips">
<circle cx="56.5" cy="627.5" r="85.2" fill="url(#gRim)" stroke="#171b32" stroke-width="1.9"/>
<clipPath id="cBowl"><circle cx="59.5" cy="629.5" r="77"/></clipPath>
<circle cx="57" cy="634" r="66" fill="#c08520"/>
<g clip-path="url(#cBowl)">
<path d="M72.4,601.1 Q68.9,603.6 64.1,602.4 Q59.2,601.3 55.4,597.9 Q51.6,594.5 49.7,590.1 Q47.8,585.6 49.1,581.4 Q50.5,577.3 54.3,575.3 Q58.2,573.2 63.0,574.1 Q67.9,574.9 71.7,578.3 Q75.5,581.8 77.0,586.2 Q78.6,590.7 77.2,594.6 Q75.8,598.5 72.4,601.1 Z" fill="#8f5e12" opacity="0.6"/>
<path d="M71.2,599.3 Q67.7,601.8 62.9,600.6 Q58.0,599.5 54.2,596.1 Q50.4,592.7 48.5,588.3 Q46.6,583.8 47.9,579.6 Q49.3,575.5 53.1,573.5 Q57.0,571.4 61.8,572.3 Q66.7,573.1 70.5,576.5 Q74.3,580.0 75.8,584.4 Q77.4,588.9 76.0,592.8 Q74.6,596.7 71.2,599.3 Z" fill="url(#gC0)"/>
<path d="M71.2,599.3 Q67.7,601.8 62.9,600.6 Q58.0,599.5 54.2,596.1 Q50.4,592.7 48.5,588.3 Q46.6,583.8 47.9,579.6 Q49.3,575.5 53.1,573.5 Q57.0,571.4 61.8,572.3 Q66.7,573.1 70.5,576.5 Q74.3,580.0 75.8,584.4 Q77.4,588.9 76.0,592.8 Q74.6,596.7 71.2,599.3 Z" fill="url(#pR0)"/>
<path d="M64.8,591.2 Q62.3,592.2 58.9,590.5 Q55.5,588.7 53.2,585.7 Q50.9,582.7 52.2,580.5 Q53.4,578.3 55.4,577.1 Q57.4,575.9 60.5,577.4 Q63.6,579.0 65.3,581.7 Q67.1,584.5 67.2,587.3 Q67.4,590.1 64.8,591.2 Z" fill="#f9e28e" opacity="0.28"/>
<path d="M106.6,609.1 Q107.4,613.1 105.3,616.8 Q103.2,620.6 99.5,622.7 Q95.8,624.8 91.7,624.4 Q87.6,624.0 84.1,621.8 Q80.6,619.6 80.5,615.5 Q80.5,611.3 82.4,607.8 Q84.3,604.3 87.7,602.2 Q91.2,600.1 95.1,600.3 Q99.1,600.6 102.4,602.8 Q105.7,605.1 106.6,609.1 Z" fill="#8f5e12" opacity="0.6"/>
<path d="M105.4,607.3 Q106.2,611.3 104.1,615.0 Q102.0,618.8 98.3,620.9 Q94.6,623.0 90.5,622.6 Q86.4,622.2 82.9,620.0 Q79.4,617.8 79.3,613.7 Q79.3,609.5 81.2,606.0 Q83.1,602.5 86.5,600.4 Q90.0,598.3 93.9,598.5 Q97.9,598.8 101.2,601.0 Q104.5,603.3 105.4,607.3 Z" fill="url(#gC1)"/>
<path d="M105.4,607.3 Q106.2,611.3 104.1,615.0 Q102.0,618.8 98.3,620.9 Q94.6,623.0 90.5,622.6 Q86.4,622.2 82.9,620.0 Q79.4,617.8 79.3,613.7 Q79.3,609.5 81.2,606.0 Q83.1,602.5 86.5,600.4 Q90.0,598.3 93.9,598.5 Q97.9,598.8 101.2,601.0 Q104.5,603.3 105.4,607.3 Z" fill="url(#pR1)"/>
<path d="M96.6,606.2 Q96.0,608.6 94.4,610.4 Q92.7,612.3 90.1,613.3 Q87.5,614.2 85.7,612.8 Q83.9,611.4 83.3,609.2 Q82.7,606.9 84.9,604.7 Q87.1,602.5 90.1,601.7 Q93.1,601.0 95.1,602.4 Q97.1,603.8 96.6,606.2 Z" fill="#f9e28e" opacity="0.28"/>
<path d="M44.6,626.4 Q41.9,629.9 38.2,631.4 Q34.5,632.8 30.9,631.7 Q27.3,630.5 25.9,626.7 Q24.5,622.9 24.5,618.8 Q24.5,614.6 26.8,610.9 Q29.2,607.2 33.0,605.8 Q36.8,604.4 40.2,605.9 Q43.6,607.5 45.1,611.0 Q46.7,614.6 47.0,618.8 Q47.3,623.0 44.6,626.4 Z" fill="#8f5e12" opacity="0.6"/>
<path d="M43.4,624.6 Q40.7,628.1 37.0,629.6 Q33.3,631.0 29.7,629.9 Q26.1,628.7 24.7,624.9 Q23.3,621.1 23.3,617.0 Q23.3,612.8 25.6,609.1 Q28.0,605.4 31.8,604.0 Q35.6,602.6 39.0,604.1 Q42.4,605.7 43.9,609.2 Q45.5,612.8 45.8,617.0 Q46.1,621.2 43.4,624.6 Z" fill="url(#gC2)"/>
<path d="M43.4,624.6 Q40.7,628.1 37.0,629.6 Q33.3,631.0 29.7,629.9 Q26.1,628.7 24.7,624.9 Q23.3,621.1 23.3,617.0 Q23.3,612.8 25.6,609.1 Q28.0,605.4 31.8,604.0 Q35.6,602.6 39.0,604.1 Q42.4,605.7 43.9,609.2 Q45.5,612.8 45.8,617.0 Q46.1,621.2 43.4,624.6 Z" fill="url(#pR2)"/>
<path d="M37.4,618.1 Q35.3,619.5 33.0,619.7 Q30.6,619.9 29.1,618.2 Q27.6,616.5 26.7,614.0 Q25.8,611.6 28.0,610.4 Q30.2,609.1 32.6,608.6 Q34.9,608.0 36.8,609.8 Q38.6,611.5 39.1,614.1 Q39.5,616.6 37.4,618.1 Z" fill="#f9e28e" opacity="0.28"/>
<path d="M94.1,646.2 Q93.3,649.8 90.0,651.9 Q86.8,654.0 82.8,653.9 Q78.8,653.8 75.9,651.5 Q72.9,649.2 71.2,646.0 Q69.4,642.7 70.7,639.1 Q71.9,635.5 75.4,633.5 Q78.8,631.6 82.7,631.6 Q86.7,631.6 89.6,633.9 Q92.6,636.1 93.7,639.4 Q94.8,642.7 94.1,646.2 Z" fill="#8f5e12" opacity="0.6"/>
<path d="M92.9,644.4 Q92.1,648.0 88.8,650.1 Q85.6,652.2 81.6,652.1 Q77.6,652.0 74.7,649.7 Q71.7,647.4 70.0,644.2 Q68.2,640.9 69.5,637.3 Q70.7,633.7 74.2,631.7 Q77.6,629.8 81.5,629.8 Q85.5,629.8 88.4,632.1 Q91.4,634.3 92.5,637.6 Q93.6,640.9 92.9,644.4 Z" fill="url(#gC0)"/>
<path d="M92.9,644.4 Q92.1,648.0 88.8,650.1 Q85.6,652.2 81.6,652.1 Q77.6,652.0 74.7,649.7 Q71.7,647.4 70.0,644.2 Q68.2,640.9 69.5,637.3 Q70.7,633.7 74.2,631.7 Q77.6,629.8 81.5,629.8 Q85.5,629.8 88.4,632.1 Q91.4,634.3 92.5,637.6 Q93.6,640.9 92.9,644.4 Z" fill="url(#pR3)"/>
<path d="M85.5,640.5 Q84.8,642.4 82.2,642.7 Q79.6,643.0 76.8,642.9 Q74.0,642.8 73.0,640.7 Q72.0,638.6 73.0,636.4 Q73.9,634.3 76.8,634.0 Q79.6,633.7 81.9,634.4 Q84.1,635.2 85.2,636.9 Q86.3,638.6 85.5,640.5 Z" fill="#f9e28e" opacity="0.28"/>
<path d="M76.2,664.6 Q73.6,666.7 70.3,667.4 Q67.0,668.1 63.0,667.8 Q59.0,667.4 56.9,664.5 Q54.8,661.7 54.4,658.8 Q54.1,656.0 55.5,653.4 Q56.9,650.8 60.6,650.1 Q64.2,649.5 68.2,650.2 Q72.1,650.8 74.3,653.6 Q76.5,656.4 77.7,659.5 Q78.8,662.6 76.2,664.6 Z" fill="#8f5e12" opacity="0.6"/>
<path d="M75.0,662.8 Q72.4,664.9 69.1,665.6 Q65.8,666.3 61.8,666.0 Q57.8,665.6 55.7,662.7 Q53.6,659.9 53.2,657.0 Q52.9,654.2 54.3,651.6 Q55.7,649.0 59.4,648.3 Q63.0,647.7 67.0,648.4 Q70.9,649.0 73.1,651.8 Q75.3,654.6 76.5,657.7 Q77.6,660.8 75.0,662.8 Z" fill="url(#gC3)"/>
<path d="M75.0,662.8 Q72.4,664.9 69.1,665.6 Q65.8,666.3 61.8,666.0 Q57.8,665.6 55.7,662.7 Q53.6,659.9 53.2,657.0 Q52.9,654.2 54.3,651.6 Q55.7,649.0 59.4,648.3 Q63.0,647.7 67.0,648.4 Q70.9,649.0 73.1,651.8 Q75.3,654.6 76.5,657.7 Q77.6,660.8 75.0,662.8 Z" fill="url(#pR4)"/>
<path d="M67.5,658.3 Q66.6,659.7 63.9,659.9 Q61.2,660.1 59.2,658.5 Q57.2,656.9 56.4,655.2 Q55.7,653.5 57.2,652.4 Q58.7,651.3 61.2,651.1 Q63.7,650.9 66.0,652.2 Q68.4,653.6 68.4,655.3 Q68.4,656.9 67.5,658.3 Z" fill="#f9e28e" opacity="0.28"/>
<path d="M142.3,629.7 Q141.5,633.0 139.2,635.0 Q136.9,637.1 134.3,636.4 Q131.7,635.8 129.4,634.2 Q127.1,632.7 126.4,629.5 Q125.7,626.3 126.5,623.2 Q127.2,620.1 129.4,618.5 Q131.6,616.9 134.1,616.8 Q136.6,616.8 138.7,618.5 Q140.9,620.2 142.0,623.3 Q143.2,626.3 142.3,629.7 Z" fill="#8f5e12" opacity="0.6"/>
<path d="M141.1,627.9 Q140.3,631.2 138.0,633.2 Q135.7,635.3 133.1,634.6 Q130.5,634.0 128.2,632.4 Q125.9,630.9 125.2,627.7 Q124.5,624.5 125.3,621.4 Q126.0,618.3 128.2,616.7 Q130.4,615.1 132.9,615.0 Q135.4,615.0 137.5,616.7 Q139.7,618.4 140.8,621.5 Q142.0,624.5 141.1,627.9 Z" fill="url(#gC1)"/>
<path d="M141.1,627.9 Q140.3,631.2 138.0,633.2 Q135.7,635.3 133.1,634.6 Q130.5,634.0 128.2,632.4 Q125.9,630.9 125.2,627.7 Q124.5,624.5 125.3,621.4 Q126.0,618.3 128.2,616.7 Q130.4,615.1 132.9,615.0 Q135.4,615.0 137.5,616.7 Q139.7,618.4 140.8,621.5 Q142.0,624.5 141.1,627.9 Z" fill="url(#pR5)"/>
<path d="M135.5,624.1 Q134.9,625.8 133.3,626.5 Q131.6,627.3 130.0,626.5 Q128.4,625.8 127.6,624.1 Q126.8,622.4 127.6,620.8 Q128.3,619.1 130.0,618.4 Q131.6,617.6 133.1,618.5 Q134.6,619.4 135.3,620.9 Q136.0,622.4 135.5,624.1 Z" fill="#f9e28e" opacity="0.28"/>
<path d="M111.1,593.5 Q109.4,596.6 105.6,597.4 Q101.9,598.3 97.8,598.2 Q93.8,598.2 91.5,595.3 Q89.2,592.3 88.1,589.1 Q87.0,585.9 89.2,583.4 Q91.4,580.8 94.5,579.0 Q97.7,577.2 101.4,578.3 Q105.2,579.5 108.3,581.6 Q111.4,583.7 112.1,587.1 Q112.8,590.5 111.1,593.5 Z" fill="#8f5e12" opacity="0.6"/>
<path d="M109.9,591.7 Q108.2,594.8 104.4,595.6 Q100.7,596.5 96.6,596.4 Q92.6,596.4 90.3,593.5 Q88.0,590.5 86.9,587.3 Q85.8,584.1 88.0,581.6 Q90.2,579.0 93.3,577.2 Q96.5,575.4 100.2,576.5 Q104.0,577.7 107.1,579.8 Q110.2,581.9 110.9,585.3 Q111.6,588.7 109.9,591.7 Z" fill="url(#gC0)"/>
<path d="M109.9,591.7 Q108.2,594.8 104.4,595.6 Q100.7,596.5 96.6,596.4 Q92.6,596.4 90.3,593.5 Q88.0,590.5 86.9,587.3 Q85.8,584.1 88.0,581.6 Q90.2,579.0 93.3,577.2 Q96.5,575.4 100.2,576.5 Q104.0,577.7 107.1,579.8 Q110.2,581.9 110.9,585.3 Q111.6,588.7 109.9,591.7 Z" fill="url(#pR0)"/>
<path d="M102.7,587.1 Q101.1,588.5 98.5,588.5 Q96.0,588.4 94.0,587.4 Q91.9,586.5 91.1,584.8 Q90.3,583.1 91.1,581.4 Q92.0,579.6 94.8,579.3 Q97.7,579.0 99.8,580.4 Q102.0,581.9 103.2,583.8 Q104.4,585.6 102.7,587.1 Z" fill="#f9e28e" opacity="0.28"/>
<path d="M9.7,608.5 Q8.1,611.9 5.2,613.3 Q2.4,614.7 -0.4,614.1 Q-3.2,613.5 -5.3,611.2 Q-7.4,608.9 -7.6,605.4 Q-7.8,601.8 -6.6,598.4 Q-5.3,595.0 -2.4,593.7 Q0.5,592.4 3.4,592.7 Q6.2,593.1 8.3,595.5 Q10.3,598.0 10.8,601.6 Q11.3,605.2 9.7,608.5 Z" fill="#8f5e12" opacity="0.6"/>
<path d="M8.5,606.7 Q6.9,610.1 4.0,611.5 Q1.2,612.9 -1.6,612.3 Q-4.4,611.7 -6.5,609.4 Q-8.6,607.1 -8.8,603.6 Q-9.0,600.0 -7.8,596.6 Q-6.5,593.2 -3.6,591.9 Q-0.7,590.6 2.2,590.9 Q5.0,591.3 7.1,593.7 Q9.1,596.2 9.6,599.8 Q10.1,603.4 8.5,606.7 Z" fill="url(#gC1)"/>
<path d="M8.5,606.7 Q6.9,610.1 4.0,611.5 Q1.2,612.9 -1.6,612.3 Q-4.4,611.7 -6.5,609.4 Q-8.6,607.1 -8.8,603.6 Q-9.0,600.0 -7.8,596.6 Q-6.5,593.2 -3.6,591.9 Q-0.7,590.6 2.2,590.9 Q5.0,591.3 7.1,593.7 Q9.1,596.2 9.6,599.8 Q10.1,603.4 8.5,606.7 Z" fill="url(#pR1)"/>
<path d="M2.8,601.8 Q1.6,603.3 -0.3,604.0 Q-2.2,604.7 -3.7,603.4 Q-5.2,602.1 -5.8,600.3 Q-6.3,598.4 -5.5,596.4 Q-4.6,594.4 -2.5,594.6 Q-0.4,594.8 1.2,595.6 Q2.9,596.5 3.4,598.4 Q4.0,600.2 2.8,601.8 Z" fill="#f9e28e" opacity="0.28"/>
<path d="M30.7,580.8 Q31.6,585.4 28.3,589.5 Q25.0,593.6 19.8,594.9 Q14.7,596.1 9.8,595.3 Q4.9,594.5 1.9,591.0 Q-1.0,587.4 -1.2,582.7 Q-1.5,578.1 1.6,573.9 Q4.6,569.7 9.7,568.6 Q14.9,567.6 19.4,568.7 Q24.0,569.7 26.9,573.0 Q29.8,576.2 30.7,580.8 Z" fill="#8f5e12" opacity="0.6"/>
<path d="M29.5,579.0 Q30.4,583.6 27.1,587.7 Q23.8,591.8 18.6,593.1 Q13.5,594.3 8.6,593.5 Q3.7,592.7 0.7,589.2 Q-2.2,585.6 -2.4,580.9 Q-2.7,576.3 0.4,572.1 Q3.4,567.9 8.5,566.8 Q13.7,565.8 18.2,566.9 Q22.8,567.9 25.7,571.2 Q28.6,574.4 29.5,579.0 Z" fill="url(#gC2)"/>
<path d="M29.5,579.0 Q30.4,583.6 27.1,587.7 Q23.8,591.8 18.6,593.1 Q13.5,594.3 8.6,593.5 Q3.7,592.7 0.7,589.2 Q-2.2,585.6 -2.4,580.9 Q-2.7,576.3 0.4,572.1 Q3.4,567.9 8.5,566.8 Q13.7,565.8 18.2,566.9 Q22.8,567.9 25.7,571.2 Q28.6,574.4 29.5,579.0 Z" fill="url(#pR2)"/>
<path d="M19.0,576.5 Q18.9,579.1 16.0,580.8 Q13.1,582.5 9.6,583.4 Q6.0,584.2 4.5,582.0 Q3.0,579.8 3.1,577.3 Q3.1,574.7 5.8,572.2 Q8.5,569.8 12.0,570.1 Q15.5,570.4 17.3,572.2 Q19.1,573.9 19.0,576.5 Z" fill="#f9e28e" opacity="0.28"/>
<path d="M88.4,567.1 Q87.7,571.3 83.5,574.3 Q79.2,577.3 73.8,578.3 Q68.3,579.3 63.4,577.4 Q58.5,575.6 56.9,571.6 Q55.4,567.6 56.6,563.7 Q57.7,559.8 61.0,556.1 Q64.3,552.4 69.9,552.3 Q75.6,552.1 80.2,553.9 Q84.8,555.7 87.0,559.3 Q89.1,562.9 88.4,567.1 Z" fill="#8f5e12" opacity="0.6"/>
<path d="M87.2,565.3 Q86.5,569.5 82.3,572.5 Q78.0,575.5 72.6,576.5 Q67.1,577.5 62.2,575.6 Q57.3,573.8 55.7,569.8 Q54.2,565.8 55.4,561.9 Q56.5,558.0 59.8,554.3 Q63.1,550.6 68.7,550.5 Q74.4,550.3 79.0,552.1 Q83.6,553.9 85.8,557.5 Q87.9,561.1 87.2,565.3 Z" fill="url(#gC0)"/>
<path d="M87.2,565.3 Q86.5,569.5 82.3,572.5 Q78.0,575.5 72.6,576.5 Q67.1,577.5 62.2,575.6 Q57.3,573.8 55.7,569.8 Q54.2,565.8 55.4,561.9 Q56.5,558.0 59.8,554.3 Q63.1,550.6 68.7,550.5 Q74.4,550.3 79.0,552.1 Q83.6,553.9 85.8,557.5 Q87.9,561.1 87.2,565.3 Z" fill="url(#pR3)"/>
<path d="M77.4,561.9 Q76.6,564.5 72.8,565.7 Q69.0,566.8 65.2,566.6 Q61.4,566.4 59.2,564.4 Q57.0,562.3 58.8,559.8 Q60.5,557.4 63.9,555.8 Q67.2,554.2 71.1,554.6 Q74.9,555.1 76.6,557.2 Q78.3,559.3 77.4,561.9 Z" fill="#f9e28e" opacity="0.28"/>
<path d="M59.4,583.9 Q55.7,589.0 49.2,589.7 Q42.6,590.3 36.7,588.8 Q30.8,587.3 25.7,583.3 Q20.6,579.4 20.2,573.3 Q19.8,567.2 23.3,562.4 Q26.9,557.6 33.1,556.2 Q39.3,554.8 45.7,556.1 Q52.1,557.3 56.4,562.0 Q60.7,566.7 61.9,572.8 Q63.0,578.8 59.4,583.9 Z" fill="#8f5e12" opacity="0.6"/>
<path d="M58.2,582.1 Q54.5,587.2 48.0,587.9 Q41.4,588.5 35.5,587.0 Q29.6,585.5 24.5,581.5 Q19.4,577.6 19.0,571.5 Q18.6,565.4 22.1,560.6 Q25.7,555.8 31.9,554.4 Q38.1,553.0 44.5,554.3 Q50.9,555.5 55.2,560.2 Q59.5,564.9 60.7,571.0 Q61.8,577.0 58.2,582.1 Z" fill="url(#gC3)"/>
<path d="M58.2,582.1 Q54.5,587.2 48.0,587.9 Q41.4,588.5 35.5,587.0 Q29.6,585.5 24.5,581.5 Q19.4,577.6 19.0,571.5 Q18.6,565.4 22.1,560.6 Q25.7,555.8 31.9,554.4 Q38.1,553.0 44.5,554.3 Q50.9,555.5 55.2,560.2 Q59.5,564.9 60.7,571.0 Q61.8,577.0 58.2,582.1 Z" fill="url(#pR4)"/>
<path d="M45.9,572.5 Q42.2,574.2 38.3,575.1 Q34.3,576.0 30.8,573.5 Q27.2,571.0 25.5,567.5 Q23.9,564.0 27.1,561.9 Q30.4,559.8 34.7,559.1 Q39.1,558.4 42.1,561.3 Q45.2,564.2 47.3,567.6 Q49.5,570.9 45.9,572.5 Z" fill="#f9e28e" opacity="0.28"/>
<path d="M105.3,586.3 Q101.6,589.6 96.2,590.6 Q90.8,591.6 85.7,588.8 Q80.5,586.1 77.6,581.6 Q74.8,577.0 74.6,572.0 Q74.4,567.0 77.7,562.8 Q81.0,558.6 87.0,558.1 Q93.1,557.6 98.8,560.3 Q104.6,563.0 107.1,568.1 Q109.6,573.2 109.3,578.1 Q109.0,583.1 105.3,586.3 Z" fill="#8f5e12" opacity="0.6"/>
<path d="M104.1,584.5 Q100.4,587.8 95.0,588.8 Q89.6,589.8 84.5,587.0 Q79.3,584.3 76.4,579.8 Q73.6,575.2 73.4,570.2 Q73.2,565.2 76.5,561.0 Q79.8,556.8 85.8,556.3 Q91.9,555.8 97.6,558.5 Q103.4,561.2 105.9,566.3 Q108.4,571.4 108.1,576.3 Q107.8,581.3 104.1,584.5 Z" fill="url(#gC1)"/>
<path d="M104.1,584.5 Q100.4,587.8 95.0,588.8 Q89.6,589.8 84.5,587.0 Q79.3,584.3 76.4,579.8 Q73.6,575.2 73.4,570.2 Q73.2,565.2 76.5,561.0 Q79.8,556.8 85.8,556.3 Q91.9,555.8 97.6,558.5 Q103.4,561.2 105.9,566.3 Q108.4,571.4 108.1,576.3 Q107.8,581.3 104.1,584.5 Z" fill="url(#pR5)"/>
<path d="M95.4,576.1 Q92.0,577.1 88.3,577.0 Q84.6,576.8 81.7,574.2 Q78.7,571.5 77.7,568.2 Q76.7,564.8 80.0,563.6 Q83.3,562.4 87.1,562.9 Q90.9,563.4 94.0,566.0 Q97.1,568.5 98.0,571.8 Q98.8,575.2 95.4,576.1 Z" fill="#f9e28e" opacity="0.28"/>
<path d="M33.6,613.7 Q29.9,617.0 24.3,617.2 Q18.8,617.5 13.6,614.7 Q8.4,611.9 6.0,606.8 Q3.6,601.8 4.2,596.7 Q4.8,591.7 9.4,589.5 Q13.9,587.3 18.9,586.6 Q23.9,585.9 29.2,588.3 Q34.4,590.7 36.7,595.7 Q39.0,600.7 38.2,605.6 Q37.3,610.5 33.6,613.7 Z" fill="#8f5e12" opacity="0.6"/>
<path d="M32.4,611.9 Q28.7,615.2 23.1,615.4 Q17.6,615.7 12.4,612.9 Q7.2,610.1 4.8,605.0 Q2.4,600.0 3.0,594.9 Q3.6,589.9 8.2,587.7 Q12.7,585.5 17.7,584.8 Q22.7,584.1 28.0,586.5 Q33.2,588.9 35.5,593.9 Q37.8,598.9 37.0,603.8 Q36.1,608.7 32.4,611.9 Z" fill="url(#gC0)"/>
<path d="M32.4,611.9 Q28.7,615.2 23.1,615.4 Q17.6,615.7 12.4,612.9 Q7.2,610.1 4.8,605.0 Q2.4,600.0 3.0,594.9 Q3.6,589.9 8.2,587.7 Q12.7,585.5 17.7,584.8 Q22.7,584.1 28.0,586.5 Q33.2,588.9 35.5,593.9 Q37.8,598.9 37.0,603.8 Q36.1,608.7 32.4,611.9 Z" fill="url(#pR0)"/>
<path d="M23.3,603.0 Q21.6,605.2 18.0,603.5 Q14.4,601.8 11.4,599.5 Q8.4,597.2 8.2,594.1 Q8.1,590.9 10.8,589.5 Q13.6,588.1 17.2,589.4 Q20.8,590.8 23.2,593.2 Q25.7,595.7 25.4,598.2 Q25.1,600.8 23.3,603.0 Z" fill="#f9e28e" opacity="0.28"/>
<path d="M135.6,613.6 Q133.7,617.6 130.9,620.4 Q128.0,623.1 124.9,621.9 Q121.9,620.7 119.5,618.0 Q117.2,615.3 117.1,610.6 Q117.0,606.0 118.9,602.1 Q120.9,598.2 123.7,595.5 Q126.6,592.8 129.6,593.9 Q132.6,595.0 134.9,597.8 Q137.2,600.5 137.3,605.0 Q137.4,609.6 135.6,613.6 Z" fill="#8f5e12" opacity="0.6"/>
<path d="M134.4,611.8 Q132.5,615.8 129.7,618.6 Q126.8,621.3 123.7,620.1 Q120.7,618.9 118.3,616.2 Q116.0,613.5 115.9,608.8 Q115.8,604.2 117.7,600.3 Q119.7,596.4 122.5,593.7 Q125.4,591.0 128.4,592.1 Q131.4,593.2 133.7,596.0 Q136.0,598.7 136.1,603.2 Q136.2,607.8 134.4,611.8 Z" fill="url(#gC1)"/>
<path d="M134.4,611.8 Q132.5,615.8 129.7,618.6 Q126.8,621.3 123.7,620.1 Q120.7,618.9 118.3,616.2 Q116.0,613.5 115.9,608.8 Q115.8,604.2 117.7,600.3 Q119.7,596.4 122.5,593.7 Q125.4,591.0 128.4,592.1 Q131.4,593.2 133.7,596.0 Q136.0,598.7 136.1,603.2 Q136.2,607.8 134.4,611.8 Z" fill="url(#pR1)"/>
<path d="M128.6,606.2 Q127.8,608.6 125.6,608.7 Q123.4,608.8 121.5,607.9 Q119.5,607.1 118.7,604.4 Q117.9,601.8 119.7,599.8 Q121.5,597.8 123.6,596.5 Q125.8,595.2 127.7,596.9 Q129.6,598.7 129.5,601.2 Q129.4,603.8 128.6,606.2 Z" fill="#f9e28e" opacity="0.28"/>
<path d="M129.0,595.3 Q130.4,600.5 127.8,605.7 Q125.3,610.8 120.5,613.8 Q115.7,616.8 110.6,616.6 Q105.4,616.5 100.7,614.3 Q96.0,612.2 95.0,607.1 Q93.9,602.0 95.6,596.7 Q97.4,591.4 102.4,588.4 Q107.4,585.5 113.1,584.8 Q118.7,584.0 123.1,587.1 Q127.5,590.1 129.0,595.3 Z" fill="#8f5e12" opacity="0.6"/>
<path d="M127.8,593.5 Q129.2,598.7 126.6,603.9 Q124.1,609.0 119.3,612.0 Q114.5,615.0 109.4,614.8 Q104.2,614.7 99.5,612.5 Q94.8,610.4 93.8,605.3 Q92.7,600.2 94.4,594.9 Q96.2,589.6 101.2,586.6 Q106.2,583.7 111.9,583.0 Q117.5,582.2 121.9,585.3 Q126.3,588.3 127.8,593.5 Z" fill="url(#gC2)"/>
<path d="M127.8,593.5 Q129.2,598.7 126.6,603.9 Q124.1,609.0 119.3,612.0 Q114.5,615.0 109.4,614.8 Q104.2,614.7 99.5,612.5 Q94.8,610.4 93.8,605.3 Q92.7,600.2 94.4,594.9 Q96.2,589.6 101.2,586.6 Q106.2,583.7 111.9,583.0 Q117.5,582.2 121.9,585.3 Q126.3,588.3 127.8,593.5 Z" fill="url(#pR2)"/>
<path d="M116.9,592.9 Q116.7,596.3 114.3,599.3 Q111.9,602.2 108.3,603.4 Q104.7,604.7 101.7,603.6 Q98.6,602.5 98.0,599.3 Q97.4,596.0 100.5,593.2 Q103.5,590.3 106.9,589.4 Q110.3,588.5 113.7,589.0 Q117.2,589.5 116.9,592.9 Z" fill="#f9e28e" opacity="0.28"/>
<path d="M26.4,632.5 Q27.2,638.3 23.3,641.9 Q19.3,645.5 14.7,647.6 Q10.1,649.7 5.6,646.7 Q1.1,643.8 -1.9,639.3 Q-4.8,634.8 -5.7,628.9 Q-6.5,623.1 -2.6,619.4 Q1.4,615.7 6.1,613.8 Q10.8,611.9 15.6,614.4 Q20.4,616.8 23.0,621.7 Q25.6,626.6 26.4,632.5 Z" fill="#8f5e12" opacity="0.6"/>
<path d="M25.2,630.7 Q26.0,636.5 22.1,640.1 Q18.1,643.7 13.5,645.8 Q8.9,647.9 4.4,644.9 Q-0.1,642.0 -3.1,637.5 Q-6.0,633.0 -6.9,627.1 Q-7.7,621.3 -3.8,617.6 Q0.2,613.9 4.9,612.0 Q9.6,610.1 14.4,612.6 Q19.2,615.0 21.8,619.9 Q24.4,624.8 25.2,630.7 Z" fill="url(#gC0)"/>
<path d="M25.2,630.7 Q26.0,636.5 22.1,640.1 Q18.1,643.7 13.5,645.8 Q8.9,647.9 4.4,644.9 Q-0.1,642.0 -3.1,637.5 Q-6.0,633.0 -6.9,627.1 Q-7.7,621.3 -3.8,617.6 Q0.2,613.9 4.9,612.0 Q9.6,610.1 14.4,612.6 Q19.2,615.0 21.8,619.9 Q24.4,624.8 25.2,630.7 Z" fill="url(#pR3)"/>
<path d="M14.7,625.8 Q13.8,628.9 11.4,631.2 Q9.0,633.6 5.2,633.6 Q1.5,633.5 0.3,630.4 Q-0.8,627.2 -0.8,624.2 Q-0.8,621.2 1.9,619.4 Q4.7,617.5 7.9,617.9 Q11.1,618.3 13.4,620.6 Q15.7,622.8 14.7,625.8 Z" fill="#f9e28e" opacity="0.28"/>
<path d="M142.4,648.6 Q142.1,653.2 139.9,656.6 Q137.7,659.9 134.3,660.1 Q130.9,660.3 127.5,658.6 Q124.1,657.0 122.1,652.5 Q120.2,648.0 120.6,643.2 Q121.1,638.5 123.6,635.7 Q126.1,632.9 129.4,631.9 Q132.6,630.9 135.7,633.4 Q138.8,635.8 140.8,639.9 Q142.8,644.0 142.4,648.6 Z" fill="#8f5e12" opacity="0.6"/>
<path d="M141.2,646.8 Q140.9,651.4 138.7,654.8 Q136.5,658.1 133.1,658.3 Q129.7,658.5 126.3,656.8 Q122.9,655.2 120.9,650.7 Q119.0,646.2 119.4,641.4 Q119.9,636.7 122.4,633.9 Q124.9,631.1 128.2,630.1 Q131.4,629.1 134.5,631.6 Q137.6,634.0 139.6,638.1 Q141.6,642.2 141.2,646.8 Z" fill="url(#gC3)"/>
<path d="M141.2,646.8 Q140.9,651.4 138.7,654.8 Q136.5,658.1 133.1,658.3 Q129.7,658.5 126.3,656.8 Q122.9,655.2 120.9,650.7 Q119.0,646.2 119.4,641.4 Q119.9,636.7 122.4,633.9 Q124.9,631.1 128.2,630.1 Q131.4,629.1 134.5,631.6 Q137.6,634.0 139.6,638.1 Q141.6,642.2 141.2,646.8 Z" fill="url(#pR4)"/>
<path d="M134.3,642.7 Q134.1,645.3 132.1,646.3 Q130.0,647.4 127.6,647.3 Q125.1,647.2 124.0,644.7 Q122.9,642.1 123.5,639.7 Q124.0,637.2 125.8,635.4 Q127.5,633.5 130.1,634.3 Q132.6,635.0 133.6,637.6 Q134.6,640.1 134.3,642.7 Z" fill="#f9e28e" opacity="0.28"/>
<path d="M125.2,646.3 Q121.4,651.3 115.9,652.8 Q110.4,654.3 104.6,653.4 Q98.8,652.6 96.8,646.7 Q94.8,640.9 94.5,634.8 Q94.2,628.7 97.6,623.1 Q101.0,617.5 107.0,616.7 Q112.9,616.0 118.4,617.2 Q123.8,618.4 127.0,623.5 Q130.2,628.7 129.6,635.0 Q129.0,641.4 125.2,646.3 Z" fill="#8f5e12" opacity="0.6"/>
<path d="M124.0,644.5 Q120.2,649.5 114.7,651.0 Q109.2,652.5 103.4,651.6 Q97.6,650.8 95.6,644.9 Q93.6,639.1 93.3,633.0 Q93.0,626.9 96.4,621.3 Q99.8,615.7 105.8,614.9 Q111.7,614.2 117.2,615.4 Q122.6,616.6 125.8,621.7 Q129.0,626.9 128.4,633.2 Q127.8,639.6 124.0,644.5 Z" fill="url(#gC1)"/>
<path d="M124.0,644.5 Q120.2,649.5 114.7,651.0 Q109.2,652.5 103.4,651.6 Q97.6,650.8 95.6,644.9 Q93.6,639.1 93.3,633.0 Q93.0,626.9 96.4,621.3 Q99.8,615.7 105.8,614.9 Q111.7,614.2 117.2,615.4 Q122.6,616.6 125.8,621.7 Q129.0,626.9 128.4,633.2 Q127.8,639.6 124.0,644.5 Z" fill="url(#pR5)"/>
<path d="M114.6,635.6 Q112.8,638.9 108.4,639.0 Q104.0,639.0 102.0,635.7 Q99.9,632.3 98.5,628.8 Q97.1,625.3 99.9,622.6 Q102.8,619.9 106.9,619.9 Q111.0,619.9 113.2,622.9 Q115.4,626.0 115.9,629.2 Q116.4,632.3 114.6,635.6 Z" fill="#f9e28e" opacity="0.28"/>
<path d="M38.7,662.6 Q34.6,666.0 29.5,666.9 Q24.3,667.8 20.6,664.5 Q17.0,661.2 15.6,656.4 Q14.2,651.6 15.9,646.5 Q17.5,641.4 21.9,638.5 Q26.2,635.6 31.1,634.8 Q36.0,633.9 40.0,636.6 Q44.0,639.2 45.6,644.1 Q47.1,649.0 45.0,654.0 Q42.8,659.1 38.7,662.6 Z" fill="#8f5e12" opacity="0.6"/>
<path d="M37.5,660.8 Q33.4,664.2 28.3,665.1 Q23.1,666.0 19.4,662.7 Q15.8,659.4 14.4,654.6 Q13.0,649.8 14.7,644.7 Q16.3,639.6 20.7,636.7 Q25.0,633.8 29.9,633.0 Q34.8,632.1 38.8,634.8 Q42.8,637.4 44.4,642.3 Q45.9,647.2 43.8,652.2 Q41.6,657.3 37.5,660.8 Z" fill="url(#gC0)"/>
<path d="M37.5,660.8 Q33.4,664.2 28.3,665.1 Q23.1,666.0 19.4,662.7 Q15.8,659.4 14.4,654.6 Q13.0,649.8 14.7,644.7 Q16.3,639.6 20.7,636.7 Q25.0,633.8 29.9,633.0 Q34.8,632.1 38.8,634.8 Q42.8,637.4 44.4,642.3 Q45.9,647.2 43.8,652.2 Q41.6,657.3 37.5,660.8 Z" fill="url(#pR0)"/>
<path d="M31.1,651.5 Q28.5,653.2 25.2,652.6 Q21.9,652.1 20.5,649.1 Q19.2,646.1 19.7,643.3 Q20.3,640.4 22.6,638.5 Q25.0,636.6 28.2,637.6 Q31.3,638.6 32.9,641.3 Q34.6,643.9 34.1,646.9 Q33.7,649.9 31.1,651.5 Z" fill="#f9e28e" opacity="0.28"/>
<path d="M9.2,660.7 Q7.9,665.8 5.4,668.9 Q2.8,672.0 0.1,671.0 Q-2.6,670.1 -4.3,666.8 Q-6.1,663.5 -6.7,658.7 Q-7.4,653.9 -6.0,649.1 Q-4.7,644.2 -2.3,640.6 Q0.0,637.0 2.9,637.5 Q5.8,637.9 7.7,641.4 Q9.7,644.9 10.0,650.2 Q10.4,655.5 9.2,660.7 Z" fill="#8f5e12" opacity="0.6"/>
<path d="M8.0,658.9 Q6.7,664.0 4.2,667.1 Q1.6,670.2 -1.1,669.2 Q-3.8,668.3 -5.5,665.0 Q-7.3,661.7 -7.9,656.9 Q-8.6,652.1 -7.2,647.3 Q-5.9,642.4 -3.5,638.8 Q-1.2,635.2 1.7,635.7 Q4.6,636.1 6.5,639.6 Q8.5,643.1 8.8,648.4 Q9.2,653.7 8.0,658.9 Z" fill="url(#gC1)"/>
<path d="M8.0,658.9 Q6.7,664.0 4.2,667.1 Q1.6,670.2 -1.1,669.2 Q-3.8,668.3 -5.5,665.0 Q-7.3,661.7 -7.9,656.9 Q-8.6,652.1 -7.2,647.3 Q-5.9,642.4 -3.5,638.8 Q-1.2,635.2 1.7,635.7 Q4.6,636.1 6.5,639.6 Q8.5,643.1 8.8,648.4 Q9.2,653.7 8.0,658.9 Z" fill="url(#pR1)"/>
<path d="M3.0,652.3 Q1.6,654.7 -0.2,656.5 Q-1.9,658.3 -3.4,656.3 Q-4.8,654.2 -5.4,651.6 Q-6.0,649.0 -5.3,645.9 Q-4.5,642.8 -2.5,642.4 Q-0.5,641.9 1.2,643.0 Q2.9,644.1 3.6,647.0 Q4.4,649.9 3.0,652.3 Z" fill="#f9e28e" opacity="0.28"/>
<path d="M127.9,674.6 Q127.1,678.1 124.1,680.3 Q121.1,682.5 117.4,682.6 Q113.6,682.7 111.0,680.1 Q108.4,677.5 107.3,674.3 Q106.3,671.0 107.4,667.8 Q108.5,664.6 111.2,662.5 Q114.0,660.4 117.6,660.0 Q121.1,659.5 123.7,662.1 Q126.3,664.6 127.5,667.8 Q128.6,671.0 127.9,674.6 Z" fill="#8f5e12" opacity="0.6"/>
<path d="M126.7,672.8 Q125.9,676.3 122.9,678.5 Q119.9,680.7 116.2,680.8 Q112.4,680.9 109.8,678.3 Q107.2,675.7 106.1,672.5 Q105.1,669.2 106.2,666.0 Q107.3,662.8 110.0,660.7 Q112.8,658.6 116.4,658.2 Q119.9,657.7 122.5,660.3 Q125.1,662.8 126.3,666.0 Q127.4,669.2 126.7,672.8 Z" fill="url(#gC2)"/>
<path d="M126.7,672.8 Q125.9,676.3 122.9,678.5 Q119.9,680.7 116.2,680.8 Q112.4,680.9 109.8,678.3 Q107.2,675.7 106.1,672.5 Q105.1,669.2 106.2,666.0 Q107.3,662.8 110.0,660.7 Q112.8,658.6 116.4,658.2 Q119.9,657.7 122.5,660.3 Q125.1,662.8 126.3,666.0 Q127.4,669.2 126.7,672.8 Z" fill="url(#pR2)"/>
<path d="M119.7,668.6 Q118.7,670.4 116.6,671.6 Q114.5,672.8 112.2,671.7 Q109.9,670.6 109.4,668.8 Q108.8,666.9 109.2,664.9 Q109.6,662.9 112.0,662.6 Q114.5,662.3 116.5,662.9 Q118.6,663.5 119.7,665.2 Q120.8,666.9 119.7,668.6 Z" fill="#f9e28e" opacity="0.28"/>
<path d="M26.4,668.6 Q28.1,674.0 26.2,678.7 Q24.3,683.3 20.3,685.7 Q16.2,688.0 11.6,685.5 Q6.9,683.1 3.5,678.9 Q0.1,674.7 -1.5,669.2 Q-3.1,663.7 -1.2,659.0 Q0.8,654.4 5.0,653.0 Q9.2,651.6 13.9,652.6 Q18.6,653.6 21.7,658.4 Q24.7,663.2 26.4,668.6 Z" fill="#8f5e12" opacity="0.6"/>
<path d="M25.2,666.8 Q26.9,672.2 25.0,676.9 Q23.1,681.5 19.1,683.9 Q15.0,686.2 10.4,683.7 Q5.7,681.3 2.3,677.1 Q-1.1,672.9 -2.7,667.4 Q-4.3,661.9 -2.4,657.2 Q-0.4,652.6 3.8,651.2 Q8.0,649.8 12.7,650.8 Q17.4,651.8 20.5,656.6 Q23.5,661.4 25.2,666.8 Z" fill="url(#gC0)"/>
<path d="M25.2,666.8 Q26.9,672.2 25.0,676.9 Q23.1,681.5 19.1,683.9 Q15.0,686.2 10.4,683.7 Q5.7,681.3 2.3,677.1 Q-1.1,672.9 -2.7,667.4 Q-4.3,661.9 -2.4,657.2 Q-0.4,652.6 3.8,651.2 Q8.0,649.8 12.7,650.8 Q17.4,651.8 20.5,656.6 Q23.5,661.4 25.2,666.8 Z" fill="url(#pR3)"/>
<path d="M16.7,663.3 Q17.0,666.5 14.8,668.6 Q12.6,670.7 9.5,671.4 Q6.3,672.0 4.7,669.1 Q3.1,666.2 1.8,663.1 Q0.6,659.9 3.0,657.6 Q5.5,655.3 8.7,655.1 Q12.0,654.9 14.1,657.5 Q16.3,660.0 16.7,663.3 Z" fill="#f9e28e" opacity="0.28"/>
<path d="M68.1,670.9 Q66.9,674.4 62.7,676.9 Q58.5,679.3 53.2,679.8 Q47.9,680.3 43.4,678.5 Q38.9,676.8 36.7,673.6 Q34.4,670.4 36.3,667.0 Q38.1,663.5 41.9,660.8 Q45.8,658.1 51.0,658.2 Q56.3,658.2 60.8,659.6 Q65.3,661.1 67.3,664.2 Q69.3,667.4 68.1,670.9 Z" fill="#8f5e12" opacity="0.6"/>
<path d="M66.9,669.1 Q65.7,672.6 61.5,675.1 Q57.3,677.5 52.0,678.0 Q46.7,678.5 42.2,676.7 Q37.7,675.0 35.5,671.8 Q33.2,668.6 35.1,665.2 Q36.9,661.7 40.7,659.0 Q44.6,656.3 49.8,656.4 Q55.1,656.4 59.6,657.8 Q64.1,659.3 66.1,662.4 Q68.1,665.6 66.9,669.1 Z" fill="url(#gC3)"/>
<path d="M66.9,669.1 Q65.7,672.6 61.5,675.1 Q57.3,677.5 52.0,678.0 Q46.7,678.5 42.2,676.7 Q37.7,675.0 35.5,671.8 Q33.2,668.6 35.1,665.2 Q36.9,661.7 40.7,659.0 Q44.6,656.3 49.8,656.4 Q55.1,656.4 59.6,657.8 Q64.1,659.3 66.1,662.4 Q68.1,665.6 66.9,669.1 Z" fill="url(#pR4)"/>
<path d="M56.1,665.9 Q55.4,667.8 52.1,668.7 Q48.8,669.6 45.5,669.3 Q42.1,668.9 40.8,667.2 Q39.5,665.5 40.0,663.4 Q40.6,661.3 44.3,660.3 Q48.0,659.4 51.7,659.8 Q55.3,660.1 56.1,662.1 Q56.8,664.0 56.1,665.9 Z" fill="#f9e28e" opacity="0.28"/>
<path d="M58.6,687.4 Q56.7,690.1 51.4,691.3 Q46.1,692.5 40.0,691.1 Q34.0,689.8 28.9,687.6 Q23.8,685.4 22.4,682.3 Q21.0,679.1 23.3,676.6 Q25.7,674.0 31.1,673.4 Q36.6,672.7 42.1,673.6 Q47.7,674.4 52.5,676.5 Q57.2,678.7 58.8,681.7 Q60.5,684.7 58.6,687.4 Z" fill="#8f5e12" opacity="0.6"/>
<path d="M57.4,685.6 Q55.5,688.3 50.2,689.5 Q44.9,690.7 38.8,689.3 Q32.8,688.0 27.7,685.8 Q22.6,683.6 21.2,680.5 Q19.8,677.3 22.1,674.8 Q24.5,672.2 29.9,671.6 Q35.4,670.9 40.9,671.8 Q46.5,672.6 51.3,674.7 Q56.0,676.9 57.6,679.9 Q59.3,682.9 57.4,685.6 Z" fill="url(#gC1)"/>
<path d="M57.4,685.6 Q55.5,688.3 50.2,689.5 Q44.9,690.7 38.8,689.3 Q32.8,688.0 27.7,685.8 Q22.6,683.6 21.2,680.5 Q19.8,677.3 22.1,674.8 Q24.5,672.2 29.9,671.6 Q35.4,670.9 40.9,671.8 Q46.5,672.6 51.3,674.7 Q56.0,676.9 57.6,679.9 Q59.3,682.9 57.4,685.6 Z" fill="url(#pR5)"/>
<path d="M45.4,681.1 Q44.6,682.6 40.4,682.9 Q36.2,683.1 32.6,681.6 Q29.1,680.1 26.9,678.3 Q24.8,676.5 27.3,675.4 Q29.9,674.3 33.7,674.0 Q37.5,673.8 41.7,674.9 Q45.8,676.0 46.0,677.8 Q46.2,679.5 45.4,681.1 Z" fill="#f9e28e" opacity="0.28"/>
<path d="M107.1,675.4 Q102.7,679.8 97.5,683.2 Q92.3,686.6 86.2,684.4 Q80.2,682.2 74.9,678.4 Q69.6,674.6 70.4,668.5 Q71.1,662.3 73.1,656.4 Q75.0,650.6 81.2,648.4 Q87.4,646.1 93.9,647.2 Q100.5,648.4 105.3,653.1 Q110.1,657.8 110.8,664.3 Q111.5,670.9 107.1,675.4 Z" fill="#8f5e12" opacity="0.6"/>
<path d="M105.9,673.6 Q101.5,678.0 96.3,681.4 Q91.1,684.8 85.0,682.6 Q79.0,680.4 73.7,676.6 Q68.4,672.8 69.2,666.7 Q69.9,660.5 71.9,654.6 Q73.8,648.8 80.0,646.6 Q86.2,644.3 92.7,645.4 Q99.3,646.6 104.1,651.3 Q108.9,656.0 109.6,662.5 Q110.3,669.1 105.9,673.6 Z" fill="url(#gC0)"/>
<path d="M105.9,673.6 Q101.5,678.0 96.3,681.4 Q91.1,684.8 85.0,682.6 Q79.0,680.4 73.7,676.6 Q68.4,672.8 69.2,666.7 Q69.9,660.5 71.9,654.6 Q73.8,648.8 80.0,646.6 Q86.2,644.3 92.7,645.4 Q99.3,646.6 104.1,651.3 Q108.9,656.0 109.6,662.5 Q110.3,669.1 105.9,673.6 Z" fill="url(#pR0)"/>
<path d="M94.0,665.3 Q91.6,667.8 87.6,668.9 Q83.5,670.0 80.0,667.5 Q76.5,664.9 75.4,661.5 Q74.3,658.1 76.6,655.4 Q78.8,652.6 83.0,652.5 Q87.2,652.3 91.1,654.1 Q95.0,655.9 95.7,659.4 Q96.3,662.8 94.0,665.3 Z" fill="#f9e28e" opacity="0.28"/>
</g>
<circle cx="60.4" cy="624.6" r="32" fill="#9c7420" opacity="0.45"/>
<circle cx="59.8" cy="623.3" r="31" fill="url(#gDBowl)"/>
<circle cx="59.8" cy="623.3" r="27.8" fill="url(#gMayo)"/>
<ellipse cx="59.8" cy="623.3" rx="21" ry="19.9" fill="none" stroke="#ead58a" stroke-width="4.6" opacity="0.5"/>
<ellipse cx="59.3" cy="622.6" rx="15" ry="14.2" fill="none" stroke="#f7edba" stroke-width="3.3" opacity="0.8"/>
<ellipse cx="58.9" cy="621.9" rx="9.5" ry="9.0" fill="none" stroke="#eeda94" stroke-width="2.1" opacity="0.6"/>
<ellipse cx="58.6" cy="621.4" rx="5.5" ry="5.2" fill="none" stroke="#f8f3d2" stroke-width="1.6" opacity="0.9"/>
<circle cx="58.6" cy="621.4" r="2.2" fill="#fffbe6"/>
<circle cx="44.9" cy="626.8" r="0.6" fill="#8a8a44" opacity="0.6"/>
<circle cx="74.8" cy="641.1" r="0.6" fill="#8a8a44" opacity="0.6"/>
<circle cx="77.5" cy="624.0" r="0.6" fill="#8a8a44" opacity="0.6"/>
<circle cx="65.5" cy="619.1" r="0.6" fill="#8a8a44" opacity="0.6"/>
<circle cx="41.3" cy="616.7" r="0.6" fill="#8a8a44" opacity="0.6"/>
<circle cx="74.7" cy="627.2" r="0.6" fill="#8a8a44" opacity="0.6"/>
<circle cx="55.0" cy="607.2" r="0.6" fill="#8a8a44" opacity="0.6"/>
<circle cx="58.3" cy="613.5" r="0.6" fill="#8a8a44" opacity="0.6"/>
<circle cx="60.4" cy="631.6" r="0.6" fill="#8a8a44" opacity="0.6"/>
<circle cx="35.8" cy="622.4" r="0.6" fill="#8a8a44" opacity="0.6"/>
<circle cx="41.3" cy="611.5" r="0.6" fill="#8a8a44" opacity="0.6"/>
<circle cx="43.7" cy="637.7" r="0.6" fill="#8a8a44" opacity="0.6"/>
<circle cx="70.6" cy="631.3" r="0.6" fill="#8a8a44" opacity="0.6"/>
<circle cx="50.0" cy="604.4" r="0.6" fill="#8a8a44" opacity="0.6"/>
<circle cx="53.3" cy="626.8" r="0.6" fill="#8a8a44" opacity="0.6"/>
<circle cx="58.6" cy="634.7" r="0.6" fill="#8a8a44" opacity="0.6"/>
<circle cx="55.4" cy="645.4" r="0.6" fill="#8a8a44" opacity="0.6"/>
<circle cx="67.1" cy="645.7" r="0.6" fill="#8a8a44" opacity="0.6"/>
<circle cx="64.0" cy="619.3" r="0.6" fill="#8a8a44" opacity="0.6"/>
<circle cx="47.1" cy="635.4" r="0.6" fill="#8a8a44" opacity="0.6"/>
<circle cx="75.9" cy="625.7" r="0.6" fill="#8a8a44" opacity="0.6"/>
<circle cx="66.8" cy="618.7" r="0.6" fill="#8a8a44" opacity="0.6"/>
</g>
<!-- veg mark -->
<rect x="629.5" y="629.1" width="27.6" height="27.7" fill="#fff" stroke="#17502c" stroke-width="2.1"/>
<circle cx="644" cy="643" r="7.1" fill="#1c6c3d"/>
</svg>
<h1 id="title">NUTRITIONAL INFORMATION</h1>
<div id="sub">(Approx. Values) 20 Servings per pack,<br>Serving size: 1 Tbsp. (Approx. 15 g)</div>
<div id="tbl">
<div class="row hd" style="top:0"><span class="c1">Nutrients</span><span class="c2">Per 100g</span><span class="c3">%RDA Per Serve<sup>#</sup></span></div>
<div class="row" style="top:31.40px"><span class="c1">Energy (kcal)</span><span class="c2">281.60</span><span class="c3">2.11%</span></div>
<div class="row" style="top:62.98px"><span class="c1">Protein (g)</span><span class="c2">2.50</span><span class="c3"><b class="dash">-</b></span></div>
<div class="row" style="top:94.57px"><span class="c1">Carbohydrate (g)</span><span class="c2">20.20</span><span class="c3"><b class="dash">-</b></span></div>
<div class="row" style="top:126.16px"><span class="c1">Total Sugars (g)</span><span class="c2">16.00</span><span class="c3"><b class="dash">-</b></span></div>
<div class="row" style="top:157.74px"><span class="c1">Added Sugars (g)</span><span class="c2">15.20</span><span class="c3">4.56%</span></div>
<div class="row" style="top:189.33px"><span class="c1">Total Fat (g)</span><span class="c2">21.20</span><span class="c3">4.75%</span></div>
<div class="row" style="top:220.91px"><span class="c1">Trans Fat (g)</span><span class="c2">0.00</span><span class="c3">0.00%</span></div>
<div class="row" style="top:252.50px"><span class="c1">Saturated Fat (g)</span><span class="c2">3.50</span><span class="c3">2.39%</span></div>
<div class="row" style="top:284.08px"><span class="c1">Cholesterol (mg)</span><span class="c2">0.00</span><span class="c3 off"><b class="dash">-</b></span></div>
<div class="row" style="top:315.66px"><span class="c1">Sodium (mg)</span><span class="c2">840.00</span><span class="c3">6.30%</span></div>
</div>
<div id="foot"><sup>#</sup>Per serve% RDA requirement for average adult per day (2000 kcal).</div>
<div id="pack">For further details refer to the pack.</div>
<div id="serv">SERVING SUGGESTION</div>
</body>
</html>
